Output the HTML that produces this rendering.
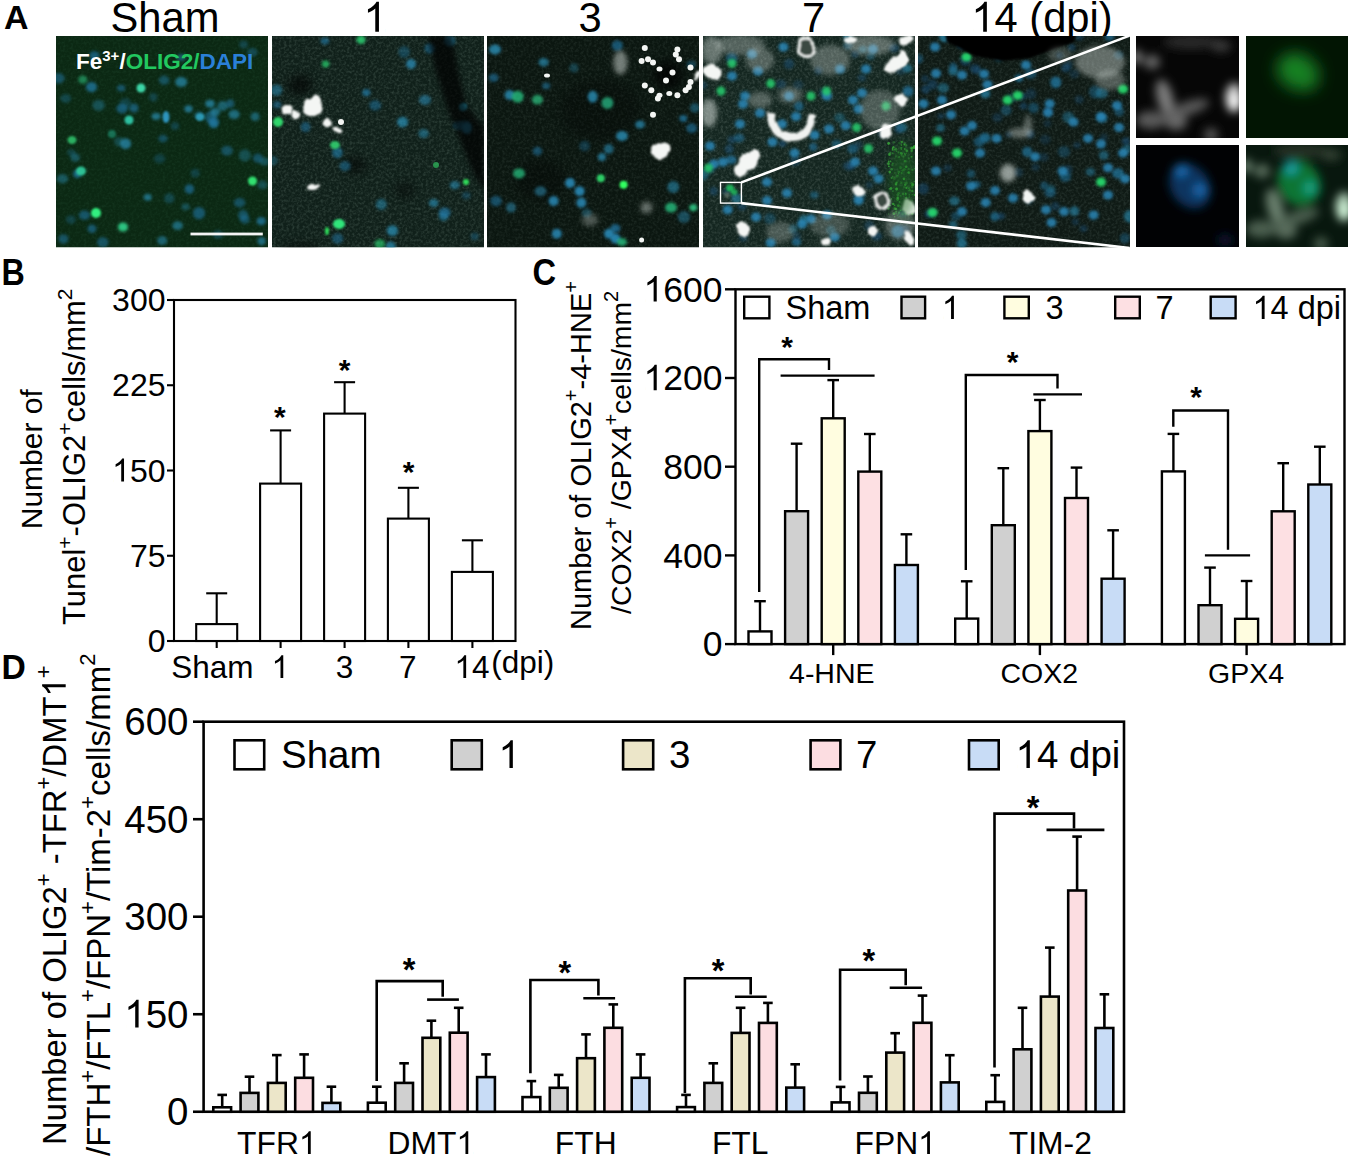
<!DOCTYPE html><html><head><meta charset="utf-8"><style>html,body{margin:0;padding:0;background:#fff;width:1350px;height:1159px;overflow:hidden;position:relative;font-family:"Liberation Sans",sans-serif}</style></head><body><svg width="1350" height="1159" viewBox="0 0 1350 1159" style="position:absolute;left:0;top:0">
<defs><filter id="b05" x="-50%" y="-50%" width="200%" height="200%"><feGaussianBlur stdDeviation="0.6"/></filter><filter id="b1" x="-50%" y="-50%" width="200%" height="200%"><feGaussianBlur stdDeviation="1.2"/></filter><filter id="b15" x="-50%" y="-50%" width="200%" height="200%"><feGaussianBlur stdDeviation="1.6"/></filter><filter id="rough" x="-30%" y="-30%" width="160%" height="160%"><feTurbulence type="fractalNoise" baseFrequency="0.12" numOctaves="2" seed="5" result="t"/><feDisplacementMap in="SourceGraphic" in2="t" scale="5" xChannelSelector="R" yChannelSelector="G" result="d"/><feGaussianBlur in="d" stdDeviation="1.2"/></filter><filter id="b2" x="-50%" y="-50%" width="200%" height="200%"><feGaussianBlur stdDeviation="2.5"/></filter><filter id="b4" x="-50%" y="-50%" width="200%" height="200%"><feGaussianBlur stdDeviation="5"/></filter><filter id="b8" x="-50%" y="-50%" width="200%" height="200%"><feGaussianBlur stdDeviation="8"/></filter></defs>
<g font-family="Liberation Sans, sans-serif">
<rect x="0" y="0" width="1350" height="1159" fill="#fff"/>
<text transform="translate(4,29) scale(1,1)" font-size="34" font-weight="bold">A</text>
<text x="165" y="31.8" font-size="41.7" text-anchor="middle" font-weight="normal" fill="#000" >Sham</text>
<text class="has1" x="375" y="31.8" font-size="41.7" text-anchor="middle" font-weight="normal" fill="#000" >1</text>
<text x="590" y="31.8" font-size="41.7" text-anchor="middle" font-weight="normal" fill="#000" >3</text>
<text x="813.5" y="31.8" font-size="41.7" text-anchor="middle" font-weight="normal" fill="#000" >7</text>
<text class="has1" x="1042" y="31.8" font-size="41.7" text-anchor="middle" font-weight="normal" fill="#000" >14 (dpi)</text>
<clipPath id="clip1"><rect x="56" y="36" width="212" height="211.5"/></clipPath>
<g clip-path="url(#clip1)">
<rect x="56" y="36" width="212" height="211.5" fill="#0b2813"/>
<filter id="sp1" x="0" y="0" width="100%" height="100%" filterUnits="userSpaceOnUse"><feTurbulence type="fractalNoise" baseFrequency="0.38" numOctaves="2" seed="1"/><feColorMatrix type="matrix" values="0 0 0 0 0.1 0 0 0 0 0.35 0 0 0 0 0.2 0.220 0 0 0 -0.090"/></filter>
<rect x="56" y="36" width="212" height="211.5" filter="url(#sp1)"/>
<ellipse cx="84.5" cy="215.2" rx="5.7" ry="4.7" fill="#1f6f9a" opacity="0.62" filter="url(#b15)"/>
<ellipse cx="156.1" cy="116.3" rx="4.5" ry="3.6" fill="#2b95bd" opacity="0.65" filter="url(#b15)"/>
<ellipse cx="147.7" cy="197.2" rx="4.0" ry="3.5" fill="#2b95bd" opacity="0.64" filter="url(#b15)"/>
<ellipse cx="181.3" cy="57.6" rx="4.7" ry="3.8" fill="#2380ad" opacity="0.53" filter="url(#b15)"/>
<ellipse cx="255.1" cy="116.6" rx="4.5" ry="4.4" fill="#2b95bd" opacity="0.52" filter="url(#b15)"/>
<ellipse cx="217.9" cy="234.6" rx="5.2" ry="4.5" fill="#1f6f9a" opacity="0.39" filter="url(#b15)"/>
<ellipse cx="153.4" cy="97.3" rx="4.0" ry="4.2" fill="#2079a8" opacity="0.34" filter="url(#b15)"/>
<ellipse cx="189.4" cy="189.0" rx="4.7" ry="4.8" fill="#1f6f9a" opacity="0.71" filter="url(#b15)"/>
<ellipse cx="162.2" cy="240.6" rx="5.1" ry="4.5" fill="#2a90b8" opacity="0.55" filter="url(#b15)"/>
<ellipse cx="243.1" cy="215.0" rx="5.1" ry="5.2" fill="#2079a8" opacity="0.50" filter="url(#b15)"/>
<ellipse cx="213.7" cy="121.5" rx="5.5" ry="5.1" fill="#1f6f9a" opacity="0.60" filter="url(#b15)"/>
<ellipse cx="199.0" cy="115.2" rx="5.0" ry="4.1" fill="#2079a8" opacity="0.37" filter="url(#b15)"/>
<ellipse cx="234.1" cy="114.4" rx="5.6" ry="4.6" fill="#2b95bd" opacity="0.60" filter="url(#b15)"/>
<ellipse cx="264.4" cy="161.5" rx="4.9" ry="4.1" fill="#2a90b8" opacity="0.40" filter="url(#b15)"/>
<ellipse cx="58.6" cy="78.2" rx="6.0" ry="5.2" fill="#2079a8" opacity="0.52" filter="url(#b15)"/>
<ellipse cx="257.9" cy="158.2" rx="5.0" ry="4.8" fill="#1f6f9a" opacity="0.56" filter="url(#b15)"/>
<ellipse cx="210.6" cy="117.2" rx="5.9" ry="5.9" fill="#2079a8" opacity="0.52" filter="url(#b15)"/>
<ellipse cx="175.0" cy="126.1" rx="4.1" ry="3.9" fill="#1f6f9a" opacity="0.38" filter="url(#b15)"/>
<ellipse cx="163.0" cy="138.6" rx="4.8" ry="3.8" fill="#1f6f9a" opacity="0.53" filter="url(#b15)"/>
<ellipse cx="222.7" cy="106.0" rx="5.3" ry="5.1" fill="#2a90b8" opacity="0.53" filter="url(#b15)"/>
<ellipse cx="94.3" cy="55.4" rx="5.2" ry="4.2" fill="#1f6f9a" opacity="0.70" filter="url(#b15)"/>
<ellipse cx="70.9" cy="219.6" rx="5.0" ry="4.3" fill="#1f6f9a" opacity="0.35" filter="url(#b15)"/>
<ellipse cx="188.5" cy="108.8" rx="4.2" ry="3.6" fill="#2a90b8" opacity="0.70" filter="url(#b15)"/>
<ellipse cx="195.2" cy="173.1" rx="4.6" ry="4.3" fill="#1f6f9a" opacity="0.35" filter="url(#b15)"/>
<ellipse cx="122.1" cy="108.6" rx="5.8" ry="4.8" fill="#1f6f9a" opacity="0.68" filter="url(#b15)"/>
<ellipse cx="164.1" cy="80.2" rx="5.3" ry="4.6" fill="#2380ad" opacity="0.47" filter="url(#b15)"/>
<ellipse cx="63.5" cy="239.0" rx="5.0" ry="4.8" fill="#2079a8" opacity="0.53" filter="url(#b15)"/>
<ellipse cx="102.8" cy="242.3" rx="5.8" ry="5.3" fill="#2079a8" opacity="0.52" filter="url(#b15)"/>
<ellipse cx="62.5" cy="178.7" rx="5.8" ry="4.7" fill="#2b95bd" opacity="0.43" filter="url(#b15)"/>
<ellipse cx="261.2" cy="221.2" rx="4.7" ry="4.1" fill="#2380ad" opacity="0.69" filter="url(#b15)"/>
<ellipse cx="213.7" cy="124.0" rx="4.6" ry="4.3" fill="#2380ad" opacity="0.66" filter="url(#b15)"/>
<ellipse cx="181.2" cy="82.0" rx="6.0" ry="5.0" fill="#2b95bd" opacity="0.66" filter="url(#b15)"/>
<ellipse cx="262.4" cy="184.9" rx="5.1" ry="4.4" fill="#2b95bd" opacity="0.34" filter="url(#b15)"/>
<ellipse cx="177.6" cy="225.6" rx="5.3" ry="4.4" fill="#2b95bd" opacity="0.58" filter="url(#b15)"/>
<ellipse cx="118.8" cy="141.7" rx="4.7" ry="4.8" fill="#2b95bd" opacity="0.31" filter="url(#b15)"/>
<ellipse cx="98.6" cy="105.3" rx="6.2" ry="5.5" fill="#2a90b8" opacity="0.39" filter="url(#b15)"/>
<ellipse cx="199.0" cy="213.2" rx="6.1" ry="6.2" fill="#1f6f9a" opacity="0.65" filter="url(#b15)"/>
<ellipse cx="169.3" cy="198.4" rx="5.2" ry="5.1" fill="#2380ad" opacity="0.34" filter="url(#b15)"/>
<ellipse cx="92.0" cy="228.7" rx="4.5" ry="4.2" fill="#1f6f9a" opacity="0.65" filter="url(#b15)"/>
<ellipse cx="134.0" cy="108.0" rx="4.6" ry="4.6" fill="#2079a8" opacity="0.60" filter="url(#b15)"/>
<ellipse cx="159.6" cy="158.7" rx="5.7" ry="4.6" fill="#1f6f9a" opacity="0.33" filter="url(#b15)"/>
<ellipse cx="239.6" cy="202.7" rx="5.8" ry="4.8" fill="#1f6f9a" opacity="0.55" filter="url(#b15)"/>
<ellipse cx="252.3" cy="52.2" rx="5.2" ry="4.3" fill="#2079a8" opacity="0.41" filter="url(#b15)"/>
<ellipse cx="244.8" cy="155.4" rx="6.0" ry="6.2" fill="#2b95bd" opacity="0.35" filter="url(#b15)"/>
<ellipse cx="65.7" cy="98.5" rx="5.4" ry="4.4" fill="#2380ad" opacity="0.35" filter="url(#b15)"/>
<ellipse cx="243.6" cy="44.5" rx="4.5" ry="4.1" fill="#2079a8" opacity="0.35" filter="url(#b15)"/>
<ellipse cx="91.5" cy="87.1" rx="5.6" ry="5.1" fill="#2380ad" opacity="0.71" filter="url(#b15)"/>
<ellipse cx="227.0" cy="150.8" rx="5.8" ry="5.0" fill="#2079a8" opacity="0.50" filter="url(#b15)"/>
<ellipse cx="77.2" cy="173.9" rx="4.1" ry="4.1" fill="#2380ad" opacity="0.69" filter="url(#b15)"/>
<ellipse cx="210.0" cy="103.7" rx="4.9" ry="4.0" fill="#2b95bd" opacity="0.68" filter="url(#b15)"/>
<ellipse cx="261.6" cy="241.1" rx="4.2" ry="4.2" fill="#2a90b8" opacity="0.63" filter="url(#b15)"/>
<ellipse cx="244.9" cy="219.5" rx="5.0" ry="4.4" fill="#1f6f9a" opacity="0.53" filter="url(#b15)"/>
<ellipse cx="121.2" cy="88.1" rx="4.2" ry="3.4" fill="#1f6f9a" opacity="0.62" filter="url(#b15)"/>
<ellipse cx="75.2" cy="157.5" rx="4.7" ry="4.3" fill="#2a90b8" opacity="0.43" filter="url(#b15)"/>
<ellipse cx="125.4" cy="103.0" rx="5.9" ry="5.1" fill="#1f6f9a" opacity="0.34" filter="url(#b15)"/>
<ellipse cx="185.6" cy="206.8" rx="4.2" ry="3.4" fill="#2a90b8" opacity="0.40" filter="url(#b15)"/>
<ellipse cx="71.3" cy="152.6" rx="4.2" ry="3.3" fill="#2380ad" opacity="0.30" filter="url(#b15)"/>
<ellipse cx="215.2" cy="112.0" rx="5.0" ry="4.2" fill="#2a90b8" opacity="0.63" filter="url(#b15)"/>
<ellipse cx="125.6" cy="143.7" rx="5.5" ry="5.4" fill="#2a90b8" opacity="0.71" filter="url(#b15)"/>
<ellipse cx="230.2" cy="103.6" rx="4.2" ry="4.3" fill="#2079a8" opacity="0.55" filter="url(#b15)"/>
<ellipse cx="82.8" cy="79.7" rx="4.6" ry="4.1" fill="#30d890" opacity="0.51" filter="url(#b15)"/>
<ellipse cx="123.0" cy="227.0" rx="5.1" ry="4.6" fill="#30d890" opacity="0.88" filter="url(#b15)"/>
<ellipse cx="141" cy="88" rx="4.5" ry="4.5" fill="#40e0b0" opacity="0.95" filter="url(#b1)"/>
<ellipse cx="129" cy="120" rx="4.5" ry="4.5" fill="#30d0b0" opacity="0.9" filter="url(#b1)"/>
<ellipse cx="72" cy="140" rx="4.5" ry="4" fill="#30c870" opacity="0.85" filter="url(#b1)"/>
<ellipse cx="81" cy="171" rx="5" ry="4.5" fill="#30d0a0" opacity="0.9" filter="url(#b1)"/>
<ellipse cx="252.5" cy="181" rx="4.5" ry="4.5" fill="#30e070" opacity="1" filter="url(#b1)"/>
<ellipse cx="96" cy="213" rx="5" ry="5" fill="#30f080" opacity="1" filter="url(#b1)"/>
<ellipse cx="166" cy="117" rx="3.5" ry="6" fill="#30a0d0" opacity="0.9" filter="url(#b1)"/>
<ellipse cx="200" cy="117" rx="4.5" ry="4" fill="#30a8c8" opacity="0.85" filter="url(#b1)"/>
<ellipse cx="112" cy="134" rx="4" ry="4" fill="#20a080" opacity="0.6" filter="url(#b1)"/>
</g>
<clipPath id="clip2"><rect x="272" y="36" width="212" height="211.5"/></clipPath>
<g clip-path="url(#clip2)">
<rect x="272" y="36" width="212" height="211.5" fill="#10201a"/>
<filter id="sp2" x="0" y="0" width="100%" height="100%" filterUnits="userSpaceOnUse"><feTurbulence type="fractalNoise" baseFrequency="0.38" numOctaves="2" seed="2"/><feColorMatrix type="matrix" values="0 0 0 0 0.35 0 0 0 0 0.5 0 0 0 0 0.42 0.440 0 0 0 -0.180"/></filter>
<rect x="272" y="36" width="212" height="211.5" filter="url(#sp2)"/>
<ellipse cx="300" cy="85" rx="12" ry="10" fill="#000" opacity="0.6" filter="url(#b4)"/>
<ellipse cx="355" cy="165" rx="12" ry="8" fill="#000" opacity="0.5" filter="url(#b4)"/>
<ellipse cx="405" cy="190" rx="10" ry="8" fill="#000" opacity="0.4" filter="url(#b4)"/>
<ellipse cx="300" cy="250" rx="20" ry="8" fill="#000" opacity="0.4" filter="url(#b4)"/>
<ellipse cx="474.7" cy="236.5" rx="4.1" ry="3.7" fill="#2380ad" opacity="0.37" filter="url(#b15)"/>
<ellipse cx="443.5" cy="216.6" rx="4.6" ry="4.3" fill="#2a90b8" opacity="0.54" filter="url(#b15)"/>
<ellipse cx="305.6" cy="127.1" rx="4.9" ry="5.0" fill="#2079a8" opacity="0.53" filter="url(#b15)"/>
<ellipse cx="366.3" cy="92.7" rx="4.1" ry="3.6" fill="#2380ad" opacity="0.69" filter="url(#b15)"/>
<ellipse cx="464.4" cy="125.6" rx="5.9" ry="5.6" fill="#2a90b8" opacity="0.40" filter="url(#b15)"/>
<ellipse cx="277.1" cy="104.8" rx="4.3" ry="3.8" fill="#2079a8" opacity="0.52" filter="url(#b15)"/>
<ellipse cx="390.7" cy="246.5" rx="5.0" ry="4.9" fill="#2b95bd" opacity="0.68" filter="url(#b15)"/>
<ellipse cx="433.7" cy="203.0" rx="4.8" ry="4.0" fill="#2b95bd" opacity="0.62" filter="url(#b15)"/>
<ellipse cx="423.6" cy="133.6" rx="5.2" ry="4.5" fill="#2b95bd" opacity="0.51" filter="url(#b15)"/>
<ellipse cx="381.3" cy="204.4" rx="5.5" ry="5.6" fill="#2b95bd" opacity="0.49" filter="url(#b15)"/>
<ellipse cx="392.4" cy="230.6" rx="5.6" ry="5.4" fill="#2b95bd" opacity="0.70" filter="url(#b15)"/>
<ellipse cx="444.7" cy="212.6" rx="5.9" ry="5.1" fill="#2079a8" opacity="0.68" filter="url(#b15)"/>
<ellipse cx="337.6" cy="238.5" rx="5.6" ry="5.2" fill="#2079a8" opacity="0.51" filter="url(#b15)"/>
<ellipse cx="402.6" cy="122.0" rx="5.6" ry="5.2" fill="#2b95bd" opacity="0.69" filter="url(#b15)"/>
<ellipse cx="404.1" cy="51.9" rx="5.8" ry="6.0" fill="#2380ad" opacity="0.38" filter="url(#b15)"/>
<ellipse cx="429.9" cy="48.4" rx="5.4" ry="5.2" fill="#1f6f9a" opacity="0.59" filter="url(#b15)"/>
<ellipse cx="466.2" cy="195.5" rx="4.3" ry="3.7" fill="#1f6f9a" opacity="0.39" filter="url(#b15)"/>
<ellipse cx="458.7" cy="125.4" rx="5.6" ry="4.5" fill="#2380ad" opacity="0.45" filter="url(#b15)"/>
<ellipse cx="324.9" cy="41.0" rx="4.3" ry="3.4" fill="#2380ad" opacity="0.61" filter="url(#b15)"/>
<ellipse cx="276.5" cy="90.1" rx="5.8" ry="5.7" fill="#2a90b8" opacity="0.52" filter="url(#b15)"/>
<ellipse cx="272.4" cy="160.7" rx="5.7" ry="4.8" fill="#2a90b8" opacity="0.32" filter="url(#b15)"/>
<ellipse cx="345.0" cy="166.1" rx="5.6" ry="4.9" fill="#2380ad" opacity="0.51" filter="url(#b15)"/>
<ellipse cx="337.4" cy="152.6" rx="5.3" ry="5.5" fill="#2380ad" opacity="0.62" filter="url(#b15)"/>
<ellipse cx="454.8" cy="185.2" rx="5.0" ry="4.1" fill="#2a90b8" opacity="0.59" filter="url(#b15)"/>
<ellipse cx="449.7" cy="41.1" rx="5.7" ry="5.3" fill="#2a90b8" opacity="0.63" filter="url(#b15)"/>
<ellipse cx="375.2" cy="105.4" rx="5.9" ry="5.1" fill="#1f6f9a" opacity="0.55" filter="url(#b15)"/>
<ellipse cx="361.0" cy="39.8" rx="4.6" ry="4.2" fill="#2fe07a" opacity="0.80" filter="url(#b15)"/>
<ellipse cx="325.6" cy="63.9" rx="3.8" ry="3.5" fill="#25c86a" opacity="0.79" filter="url(#b15)"/>
<ellipse cx="379.8" cy="244.0" rx="5.4" ry="4.8" fill="#2fe07a" opacity="0.60" filter="url(#b15)"/>
<ellipse cx="278" cy="122" rx="5" ry="5" fill="#30e070" opacity="0.95" filter="url(#b1)"/>
<ellipse cx="335" cy="145" rx="5" ry="4" fill="#30d070" opacity="0.9" filter="url(#b1)"/>
<ellipse cx="339" cy="224" rx="6" ry="5" fill="#30f080" opacity="0.95" filter="url(#b1)"/>
<ellipse cx="327" cy="231" rx="2" ry="4" fill="#30f060" opacity="0.9" filter="url(#b1)"/>
<ellipse cx="466" cy="182" rx="3" ry="3" fill="#30f060" opacity="0.9" filter="url(#b1)"/>
<ellipse cx="436" cy="165" rx="3" ry="3" fill="#30c060" opacity="0.7" filter="url(#b05)"/>
<ellipse cx="463" cy="107" rx="4" ry="4" fill="#2aa0c0" opacity="0.9" filter="url(#b1)"/>
<ellipse cx="411" cy="64" rx="5" ry="5" fill="#2a88b0" opacity="0.8" filter="url(#b15)"/>
<ellipse cx="425" cy="100" rx="6" ry="5" fill="#2a88b0" opacity="0.6" filter="url(#b15)"/>
<ellipse cx="467" cy="128" rx="5" ry="6" fill="#2a90b8" opacity="0.85" filter="url(#b15)"/>
<polygon points="428,36 452,36 458,70 466,105 484,128 484,190 474,175 460,140 448,110 436,72" fill="#000" opacity="0.7" filter="url(#b2)"/>
<g filter="url(#rough)"><ellipse cx="287" cy="110" rx="6" ry="5" fill="#f4f6f4" transform="rotate(-4 287 110)"/></g>
<g filter="url(#rough)"><ellipse cx="296" cy="114" rx="5" ry="4" fill="#f4f6f4" transform="rotate(-20 296 114)"/></g>
<g filter="url(#rough)"><ellipse cx="312" cy="107" rx="10" ry="9" fill="#f4f6f4" transform="rotate(7 312 107)"/></g>
<g filter="url(#rough)"><ellipse cx="316" cy="100" rx="5" ry="6" fill="#f4f6f4" transform="rotate(10 316 100)"/></g>
<g filter="url(#rough)"><ellipse cx="327" cy="123" rx="5" ry="4" fill="#f4f6f4" transform="rotate(24 327 123)"/></g>
<g filter="url(#rough)"><ellipse cx="338" cy="130" rx="5" ry="3" fill="#f4f6f4" transform="rotate(17 338 130)"/></g>
<ellipse cx="341" cy="122" rx="3" ry="3" fill="#f4f6f4" filter="url(#b05)"/>
<g filter="url(#rough)"><ellipse cx="313" cy="187" rx="7" ry="3" fill="#f4f6f4" transform="rotate(-6 313 187)"/></g>
</g>
<clipPath id="clip3"><rect x="487" y="36" width="212" height="211.5"/></clipPath>
<g clip-path="url(#clip3)">
<rect x="487" y="36" width="212" height="211.5" fill="#0b1610"/>
<filter id="sp3" x="0" y="0" width="100%" height="100%" filterUnits="userSpaceOnUse"><feTurbulence type="fractalNoise" baseFrequency="0.38" numOctaves="2" seed="3"/><feColorMatrix type="matrix" values="0 0 0 0 0.3 0 0 0 0 0.42 0 0 0 0 0.36 0.286 0 0 0 -0.117"/></filter>
<rect x="487" y="36" width="212" height="211.5" filter="url(#sp3)"/>
<ellipse cx="600" cy="110" rx="40" ry="30" fill="#000" opacity="0.25" filter="url(#b4)"/>
<ellipse cx="540" cy="180" rx="25" ry="20" fill="#000" opacity="0.3" filter="url(#b4)"/>
<ellipse cx="668" cy="75" rx="14" ry="14" fill="#000" opacity="0.7" filter="url(#b4)"/>
<ellipse cx="537.4" cy="151.1" rx="4.8" ry="4.4" fill="#2079a8" opacity="0.54" filter="url(#b15)"/>
<ellipse cx="615.4" cy="228.2" rx="5.0" ry="4.3" fill="#2079a8" opacity="0.72" filter="url(#b15)"/>
<ellipse cx="586.7" cy="212.9" rx="5.0" ry="4.3" fill="#2a90b8" opacity="0.36" filter="url(#b15)"/>
<ellipse cx="683.3" cy="118.5" rx="4.0" ry="3.4" fill="#2380ad" opacity="0.70" filter="url(#b15)"/>
<ellipse cx="496.1" cy="201.0" rx="5.8" ry="5.3" fill="#1f6f9a" opacity="0.60" filter="url(#b15)"/>
<ellipse cx="673.3" cy="187.0" rx="6.0" ry="5.9" fill="#2b95bd" opacity="0.54" filter="url(#b15)"/>
<ellipse cx="691.4" cy="64.4" rx="4.8" ry="4.0" fill="#2380ad" opacity="0.39" filter="url(#b15)"/>
<ellipse cx="691.7" cy="128.2" rx="5.4" ry="4.9" fill="#1f6f9a" opacity="0.65" filter="url(#b15)"/>
<ellipse cx="608.7" cy="149.0" rx="4.9" ry="5.0" fill="#2a90b8" opacity="0.59" filter="url(#b15)"/>
<ellipse cx="683.9" cy="217.1" rx="6.2" ry="6.0" fill="#2a90b8" opacity="0.44" filter="url(#b15)"/>
<ellipse cx="601.9" cy="157.0" rx="4.2" ry="4.1" fill="#2a90b8" opacity="0.71" filter="url(#b15)"/>
<ellipse cx="543.6" cy="62.3" rx="5.1" ry="4.2" fill="#2b95bd" opacity="0.64" filter="url(#b15)"/>
<ellipse cx="574.0" cy="67.9" rx="4.6" ry="4.7" fill="#2b95bd" opacity="0.32" filter="url(#b15)"/>
<ellipse cx="617.3" cy="45.5" rx="5.6" ry="5.2" fill="#1f6f9a" opacity="0.69" filter="url(#b15)"/>
<ellipse cx="546.2" cy="85.9" rx="4.1" ry="3.3" fill="#2380ad" opacity="0.55" filter="url(#b15)"/>
<ellipse cx="493.7" cy="77.7" rx="4.9" ry="4.2" fill="#2079a8" opacity="0.59" filter="url(#b15)"/>
<ellipse cx="694.7" cy="107.9" rx="4.8" ry="4.9" fill="#2a90b8" opacity="0.46" filter="url(#b15)"/>
<ellipse cx="584.6" cy="146.0" rx="5.4" ry="5.3" fill="#2079a8" opacity="0.34" filter="url(#b15)"/>
<ellipse cx="693.3" cy="207.6" rx="4.0" ry="3.6" fill="#30d890" opacity="0.82" filter="url(#b15)"/>
<ellipse cx="537.4" cy="99.7" rx="5.5" ry="4.9" fill="#30d890" opacity="0.64" filter="url(#b15)"/>
<ellipse cx="495" cy="49.5" rx="6" ry="5" fill="#2a90b8" opacity="0.8" filter="url(#b15)"/>
<ellipse cx="509.6" cy="95" rx="5" ry="5" fill="#2a90b8" opacity="0.8" filter="url(#b15)"/>
<ellipse cx="517.7" cy="96.8" rx="6" ry="6" fill="#28c080" opacity="0.8" filter="url(#b15)"/>
<ellipse cx="592.7" cy="96.8" rx="5" ry="6" fill="#2a90b8" opacity="0.8" filter="url(#b15)"/>
<ellipse cx="607.4" cy="103" rx="6" ry="6" fill="#28b080" opacity="0.8" filter="url(#b15)"/>
<ellipse cx="622" cy="136" rx="6" ry="5" fill="#2a90b8" opacity="0.8" filter="url(#b15)"/>
<ellipse cx="640" cy="124.5" rx="5" ry="4" fill="#2a90b8" opacity="0.7" filter="url(#b15)"/>
<ellipse cx="519" cy="173.4" rx="6" ry="5" fill="#28c080" opacity="0.75" filter="url(#b15)"/>
<ellipse cx="570" cy="183" rx="5" ry="5" fill="#2a90c0" opacity="0.85" filter="url(#b15)"/>
<ellipse cx="579.6" cy="191.3" rx="5" ry="5" fill="#2a90c0" opacity="0.85" filter="url(#b15)"/>
<ellipse cx="600.8" cy="178.3" rx="4" ry="4" fill="#30e070" opacity="0.9" filter="url(#b1)"/>
<ellipse cx="623.6" cy="184.8" rx="4" ry="4" fill="#30ff60" opacity="1" filter="url(#b1)"/>
<ellipse cx="553.6" cy="201" rx="5" ry="5" fill="#2a90c0" opacity="0.8" filter="url(#b15)"/>
<ellipse cx="540.5" cy="191.3" rx="6" ry="5" fill="#2a80a0" opacity="0.6" filter="url(#b15)"/>
<ellipse cx="581.3" cy="202.7" rx="5" ry="5" fill="#2a90c0" opacity="0.8" filter="url(#b15)"/>
<ellipse cx="511" cy="207.6" rx="5" ry="5" fill="#2a80a0" opacity="0.6" filter="url(#b15)"/>
<ellipse cx="671" cy="207.6" rx="6" ry="5" fill="#28c080" opacity="0.8" filter="url(#b15)"/>
<ellipse cx="609" cy="233.7" rx="5" ry="5" fill="#2a90c0" opacity="0.85" filter="url(#b15)"/>
<ellipse cx="615.5" cy="238.6" rx="5" ry="5" fill="#2a90c0" opacity="0.85" filter="url(#b15)"/>
<ellipse cx="556.8" cy="233.7" rx="5" ry="5" fill="#2a90c0" opacity="0.8" filter="url(#b15)"/>
<ellipse cx="622" cy="242" rx="5" ry="4" fill="#28c080" opacity="0.8" filter="url(#b15)"/>
<ellipse cx="620.4" cy="62.6" rx="7" ry="12" fill="#c8d0cc" opacity="0.55" filter="url(#b2)"/>
<ellipse cx="646.5" cy="207.6" rx="6" ry="6" fill="#c8d0cc" opacity="0.45" filter="url(#b2)"/>
<ellipse cx="590" cy="220" rx="8" ry="6" fill="#c8d0cc" opacity="0.35" filter="url(#b2)"/>
<ellipse cx="644.8" cy="47.9" rx="3" ry="3" fill="#f4f6f4" filter="url(#b05)"/>
<ellipse cx="648" cy="59.3" rx="3" ry="3" fill="#f4f6f4" filter="url(#b05)"/>
<ellipse cx="641.6" cy="61" rx="3" ry="3" fill="#f4f6f4" filter="url(#b05)"/>
<ellipse cx="653" cy="62.6" rx="3" ry="3" fill="#f4f6f4" filter="url(#b05)"/>
<ellipse cx="659.5" cy="69" rx="3" ry="2.5" fill="#f4f6f4" filter="url(#b05)"/>
<ellipse cx="677.4" cy="49.6" rx="3" ry="3" fill="#f4f6f4" filter="url(#b05)"/>
<ellipse cx="675.8" cy="54.4" rx="3" ry="3" fill="#f4f6f4" filter="url(#b05)"/>
<ellipse cx="679" cy="59.3" rx="3" ry="3" fill="#f4f6f4" filter="url(#b05)"/>
<ellipse cx="690.5" cy="67.5" rx="3" ry="3" fill="#f4f6f4" filter="url(#b05)"/>
<ellipse cx="672.5" cy="72.4" rx="3" ry="3" fill="#f4f6f4" filter="url(#b05)"/>
<ellipse cx="666" cy="80.5" rx="3" ry="3" fill="#f4f6f4" filter="url(#b05)"/>
<ellipse cx="690.5" cy="82" rx="3" ry="3" fill="#f4f6f4" filter="url(#b05)"/>
<ellipse cx="644.8" cy="85.4" rx="3" ry="3" fill="#f4f6f4" filter="url(#b05)"/>
<ellipse cx="651.3" cy="90.3" rx="3" ry="3" fill="#f4f6f4" filter="url(#b05)"/>
<ellipse cx="659.5" cy="95.2" rx="3" ry="2.5" fill="#f4f6f4" filter="url(#b05)"/>
<ellipse cx="669.3" cy="93.6" rx="3" ry="2.5" fill="#f4f6f4" filter="url(#b05)"/>
<ellipse cx="677.4" cy="95.2" rx="3" ry="3" fill="#f4f6f4" filter="url(#b05)"/>
<ellipse cx="685.6" cy="90.3" rx="3" ry="3" fill="#f4f6f4" filter="url(#b05)"/>
<ellipse cx="688.9" cy="87" rx="3" ry="3" fill="#f4f6f4" filter="url(#b05)"/>
<ellipse cx="657.9" cy="98.4" rx="3" ry="3" fill="#f4f6f4" filter="url(#b05)"/>
<ellipse cx="653" cy="114.7" rx="3" ry="3" fill="#f4f6f4" filter="url(#b05)"/>
<g filter="url(#rough)"><ellipse cx="661" cy="150.6" rx="10" ry="8" fill="#f4f6f4" transform="rotate(-26 661 150.6)"/></g>
<ellipse cx="547" cy="75.6" rx="3" ry="2" fill="#f4f6f4" filter="url(#b05)"/>
<ellipse cx="641.6" cy="240" rx="2.5" ry="2.5" fill="#f4f6f4" filter="url(#b05)"/>
<g filter="url(#rough)"><ellipse cx="698" cy="75" rx="2" ry="6" fill="#f4f6f4" transform="rotate(28 698 75)"/></g>
</g>
<clipPath id="clip4"><rect x="703" y="36" width="212" height="211.5"/></clipPath>
<g clip-path="url(#clip4)">
<rect x="703" y="36" width="212" height="211.5" fill="#142620"/>
<filter id="sp4" x="0" y="0" width="100%" height="100%" filterUnits="userSpaceOnUse"><feTurbulence type="fractalNoise" baseFrequency="0.38" numOctaves="2" seed="4"/><feColorMatrix type="matrix" values="0 0 0 0 0.45 0 0 0 0 0.55 0 0 0 0 0.5 0.440 0 0 0 -0.180"/></filter>
<rect x="703" y="36" width="212" height="211.5" filter="url(#sp4)"/>
<circle cx="894.4" cy="149.7" r="0.9" fill="#3fc040" opacity="0.38"/>
<circle cx="889.8" cy="172.1" r="1.3" fill="#3fc040" opacity="0.70"/>
<circle cx="908.7" cy="158.6" r="1.0" fill="#3fc040" opacity="0.44"/>
<circle cx="892.7" cy="150.0" r="0.8" fill="#3fc040" opacity="0.76"/>
<circle cx="910.4" cy="202.5" r="1.2" fill="#3fc040" opacity="0.40"/>
<circle cx="896.4" cy="189.0" r="1.2" fill="#3fc040" opacity="0.73"/>
<circle cx="911.8" cy="148.5" r="1.1" fill="#3fc040" opacity="0.64"/>
<circle cx="901.7" cy="155.3" r="1.0" fill="#3fc040" opacity="0.34"/>
<circle cx="913.2" cy="206.9" r="1.0" fill="#3fc040" opacity="0.45"/>
<circle cx="912.5" cy="184.9" r="1.3" fill="#3fc040" opacity="0.72"/>
<circle cx="901.7" cy="173.0" r="1.1" fill="#3fc040" opacity="0.52"/>
<circle cx="892.4" cy="164.9" r="1.3" fill="#3fc040" opacity="0.32"/>
<circle cx="889.3" cy="189.0" r="0.8" fill="#3fc040" opacity="0.57"/>
<circle cx="900.7" cy="167.7" r="1.4" fill="#3fc040" opacity="0.40"/>
<circle cx="899.1" cy="157.2" r="1.1" fill="#3fc040" opacity="0.44"/>
<circle cx="897.6" cy="198.0" r="0.9" fill="#3fc040" opacity="0.58"/>
<circle cx="912.4" cy="149.6" r="0.6" fill="#3fc040" opacity="0.41"/>
<circle cx="908.7" cy="188.2" r="0.8" fill="#3fc040" opacity="0.47"/>
<circle cx="892.8" cy="176.4" r="0.6" fill="#3fc040" opacity="0.65"/>
<circle cx="912.2" cy="213.6" r="1.2" fill="#3fc040" opacity="0.78"/>
<circle cx="888.5" cy="163.7" r="1.4" fill="#3fc040" opacity="0.69"/>
<circle cx="899.1" cy="212.7" r="1.1" fill="#3fc040" opacity="0.71"/>
<circle cx="895.9" cy="156.4" r="1.0" fill="#3fc040" opacity="0.37"/>
<circle cx="898.3" cy="214.1" r="0.9" fill="#3fc040" opacity="0.30"/>
<circle cx="889.2" cy="154.7" r="1.2" fill="#3fc040" opacity="0.48"/>
<circle cx="895.8" cy="149.3" r="1.4" fill="#3fc040" opacity="0.51"/>
<circle cx="893.6" cy="146.5" r="0.6" fill="#3fc040" opacity="0.38"/>
<circle cx="906.3" cy="153.2" r="0.6" fill="#3fc040" opacity="0.55"/>
<circle cx="894.7" cy="216.8" r="0.7" fill="#3fc040" opacity="0.56"/>
<circle cx="908.9" cy="172.7" r="1.4" fill="#3fc040" opacity="0.54"/>
<circle cx="894.5" cy="172.8" r="0.6" fill="#3fc040" opacity="0.51"/>
<circle cx="894.7" cy="208.7" r="1.3" fill="#3fc040" opacity="0.55"/>
<circle cx="888.9" cy="161.1" r="0.8" fill="#3fc040" opacity="0.40"/>
<circle cx="894.2" cy="207.2" r="0.7" fill="#3fc040" opacity="0.33"/>
<circle cx="913.1" cy="184.4" r="1.4" fill="#3fc040" opacity="0.50"/>
<circle cx="912.3" cy="191.0" r="1.2" fill="#3fc040" opacity="0.67"/>
<circle cx="901.3" cy="149.0" r="0.8" fill="#3fc040" opacity="0.74"/>
<circle cx="912.3" cy="211.3" r="0.9" fill="#3fc040" opacity="0.63"/>
<circle cx="909.6" cy="190.2" r="1.3" fill="#3fc040" opacity="0.56"/>
<circle cx="905.7" cy="193.4" r="0.8" fill="#3fc040" opacity="0.76"/>
<circle cx="913.8" cy="147.6" r="1.4" fill="#3fc040" opacity="0.78"/>
<circle cx="906.0" cy="145.3" r="1.3" fill="#3fc040" opacity="0.36"/>
<circle cx="914.2" cy="192.0" r="0.6" fill="#3fc040" opacity="0.38"/>
<circle cx="905.2" cy="184.7" r="1.2" fill="#3fc040" opacity="0.76"/>
<circle cx="893.9" cy="142.2" r="1.3" fill="#3fc040" opacity="0.31"/>
<circle cx="911.7" cy="150.7" r="1.2" fill="#3fc040" opacity="0.69"/>
<circle cx="911.7" cy="183.3" r="1.3" fill="#3fc040" opacity="0.40"/>
<circle cx="906.1" cy="166.8" r="1.3" fill="#3fc040" opacity="0.69"/>
<circle cx="900.7" cy="181.5" r="0.6" fill="#3fc040" opacity="0.32"/>
<circle cx="904.1" cy="178.7" r="1.3" fill="#3fc040" opacity="0.60"/>
<circle cx="891.7" cy="169.2" r="1.2" fill="#3fc040" opacity="0.56"/>
<circle cx="888.3" cy="204.8" r="1.3" fill="#3fc040" opacity="0.34"/>
<circle cx="902.7" cy="170.6" r="1.2" fill="#3fc040" opacity="0.46"/>
<circle cx="894.3" cy="178.5" r="1.4" fill="#3fc040" opacity="0.35"/>
<circle cx="891.1" cy="188.6" r="1.3" fill="#3fc040" opacity="0.56"/>
<circle cx="899.7" cy="206.3" r="1.2" fill="#3fc040" opacity="0.33"/>
<circle cx="911.8" cy="156.7" r="0.8" fill="#3fc040" opacity="0.72"/>
<circle cx="899.4" cy="201.9" r="0.7" fill="#3fc040" opacity="0.74"/>
<circle cx="892.8" cy="153.2" r="1.0" fill="#3fc040" opacity="0.47"/>
<circle cx="902.6" cy="209.8" r="1.2" fill="#3fc040" opacity="0.30"/>
<circle cx="896.4" cy="182.9" r="1.0" fill="#3fc040" opacity="0.66"/>
<circle cx="901.1" cy="147.7" r="0.8" fill="#3fc040" opacity="0.72"/>
<circle cx="897.6" cy="199.5" r="1.4" fill="#3fc040" opacity="0.61"/>
<circle cx="906.3" cy="187.7" r="0.9" fill="#3fc040" opacity="0.76"/>
<circle cx="900.6" cy="210.4" r="0.8" fill="#3fc040" opacity="0.73"/>
<circle cx="909.2" cy="188.0" r="1.0" fill="#3fc040" opacity="0.37"/>
<circle cx="908.8" cy="169.2" r="1.1" fill="#3fc040" opacity="0.37"/>
<circle cx="890.2" cy="152.8" r="1.2" fill="#3fc040" opacity="0.39"/>
<circle cx="912.4" cy="169.9" r="1.1" fill="#3fc040" opacity="0.48"/>
<circle cx="904.8" cy="149.0" r="0.9" fill="#3fc040" opacity="0.77"/>
<circle cx="892.9" cy="191.1" r="0.9" fill="#3fc040" opacity="0.45"/>
<circle cx="888.6" cy="143.5" r="1.4" fill="#3fc040" opacity="0.71"/>
<circle cx="909.6" cy="202.5" r="1.4" fill="#3fc040" opacity="0.38"/>
<circle cx="903.8" cy="179.1" r="1.1" fill="#3fc040" opacity="0.77"/>
<circle cx="908.5" cy="214.6" r="0.7" fill="#3fc040" opacity="0.63"/>
<circle cx="906.2" cy="197.9" r="1.1" fill="#3fc040" opacity="0.72"/>
<circle cx="896.2" cy="211.6" r="0.9" fill="#3fc040" opacity="0.60"/>
<circle cx="912.2" cy="194.8" r="0.8" fill="#3fc040" opacity="0.42"/>
<circle cx="896.8" cy="189.0" r="1.4" fill="#3fc040" opacity="0.75"/>
<circle cx="898.8" cy="172.0" r="1.3" fill="#3fc040" opacity="0.44"/>
<circle cx="899.1" cy="143.0" r="0.7" fill="#3fc040" opacity="0.57"/>
<circle cx="906.7" cy="188.1" r="0.9" fill="#3fc040" opacity="0.78"/>
<circle cx="904.8" cy="153.7" r="0.7" fill="#3fc040" opacity="0.79"/>
<circle cx="914.7" cy="211.0" r="1.1" fill="#3fc040" opacity="0.46"/>
<circle cx="890.5" cy="161.3" r="0.8" fill="#3fc040" opacity="0.76"/>
<circle cx="912.1" cy="200.3" r="0.7" fill="#3fc040" opacity="0.42"/>
<circle cx="896.1" cy="213.1" r="0.7" fill="#3fc040" opacity="0.70"/>
<circle cx="906.4" cy="183.0" r="1.4" fill="#3fc040" opacity="0.43"/>
<circle cx="902.2" cy="153.8" r="0.7" fill="#3fc040" opacity="0.32"/>
<circle cx="896.5" cy="151.1" r="0.6" fill="#3fc040" opacity="0.80"/>
<circle cx="895.8" cy="208.8" r="1.2" fill="#3fc040" opacity="0.67"/>
<circle cx="905.7" cy="213.4" r="1.3" fill="#3fc040" opacity="0.66"/>
<circle cx="903.1" cy="194.0" r="1.2" fill="#3fc040" opacity="0.58"/>
<circle cx="901.6" cy="153.6" r="1.3" fill="#3fc040" opacity="0.54"/>
<circle cx="889.8" cy="154.6" r="1.3" fill="#3fc040" opacity="0.43"/>
<circle cx="898.6" cy="193.2" r="1.3" fill="#3fc040" opacity="0.46"/>
<circle cx="898.4" cy="173.7" r="0.6" fill="#3fc040" opacity="0.74"/>
<circle cx="888.5" cy="214.0" r="0.7" fill="#3fc040" opacity="0.38"/>
<circle cx="910.9" cy="203.8" r="0.8" fill="#3fc040" opacity="0.58"/>
<circle cx="900.9" cy="195.9" r="0.7" fill="#3fc040" opacity="0.71"/>
<circle cx="914.9" cy="195.0" r="1.3" fill="#3fc040" opacity="0.77"/>
<circle cx="898.2" cy="205.6" r="1.3" fill="#3fc040" opacity="0.59"/>
<circle cx="890.9" cy="188.4" r="1.3" fill="#3fc040" opacity="0.45"/>
<circle cx="905.5" cy="209.3" r="1.1" fill="#3fc040" opacity="0.32"/>
<circle cx="905.1" cy="161.2" r="1.3" fill="#3fc040" opacity="0.63"/>
<circle cx="896.3" cy="209.2" r="1.1" fill="#3fc040" opacity="0.47"/>
<circle cx="910.5" cy="208.9" r="1.3" fill="#3fc040" opacity="0.74"/>
<circle cx="905.8" cy="194.4" r="1.1" fill="#3fc040" opacity="0.56"/>
<circle cx="914.7" cy="168.5" r="0.7" fill="#3fc040" opacity="0.66"/>
<circle cx="901.4" cy="182.9" r="1.1" fill="#3fc040" opacity="0.42"/>
<circle cx="893.4" cy="147.4" r="1.2" fill="#3fc040" opacity="0.75"/>
<circle cx="906.8" cy="150.8" r="1.4" fill="#3fc040" opacity="0.71"/>
<circle cx="901.8" cy="142.1" r="1.3" fill="#3fc040" opacity="0.61"/>
<circle cx="904.8" cy="143.4" r="1.2" fill="#3fc040" opacity="0.32"/>
<circle cx="900.9" cy="152.9" r="0.9" fill="#3fc040" opacity="0.75"/>
<circle cx="908.2" cy="203.2" r="0.8" fill="#3fc040" opacity="0.49"/>
<circle cx="904.3" cy="144.6" r="0.9" fill="#3fc040" opacity="0.79"/>
<circle cx="908.4" cy="206.7" r="0.8" fill="#3fc040" opacity="0.65"/>
<circle cx="909.3" cy="194.8" r="0.9" fill="#3fc040" opacity="0.39"/>
<circle cx="888.5" cy="208.5" r="1.3" fill="#3fc040" opacity="0.44"/>
<circle cx="908.4" cy="172.5" r="1.1" fill="#3fc040" opacity="0.72"/>
<circle cx="896.7" cy="188.5" r="0.8" fill="#3fc040" opacity="0.56"/>
<circle cx="888.8" cy="161.8" r="0.8" fill="#3fc040" opacity="0.76"/>
<circle cx="891.6" cy="198.9" r="0.7" fill="#3fc040" opacity="0.79"/>
<circle cx="892.5" cy="148.9" r="0.8" fill="#3fc040" opacity="0.77"/>
<circle cx="906.1" cy="208.8" r="1.0" fill="#3fc040" opacity="0.36"/>
<circle cx="897.2" cy="176.2" r="1.4" fill="#3fc040" opacity="0.38"/>
<circle cx="894.6" cy="205.2" r="0.7" fill="#3fc040" opacity="0.79"/>
<circle cx="896.0" cy="184.5" r="1.1" fill="#3fc040" opacity="0.75"/>
<circle cx="890.0" cy="205.5" r="0.7" fill="#3fc040" opacity="0.66"/>
<circle cx="888.7" cy="199.5" r="0.7" fill="#3fc040" opacity="0.40"/>
<circle cx="888.9" cy="166.3" r="0.9" fill="#3fc040" opacity="0.79"/>
<circle cx="904.4" cy="169.3" r="1.4" fill="#3fc040" opacity="0.39"/>
<circle cx="893.8" cy="213.7" r="1.4" fill="#3fc040" opacity="0.64"/>
<circle cx="914.4" cy="146.3" r="1.3" fill="#3fc040" opacity="0.65"/>
<circle cx="906.0" cy="205.2" r="0.7" fill="#3fc040" opacity="0.40"/>
<circle cx="891.7" cy="177.9" r="1.0" fill="#3fc040" opacity="0.57"/>
<circle cx="897.8" cy="197.8" r="1.3" fill="#3fc040" opacity="0.68"/>
<circle cx="889.0" cy="153.5" r="0.8" fill="#3fc040" opacity="0.42"/>
<circle cx="903.5" cy="156.6" r="1.1" fill="#3fc040" opacity="0.47"/>
<circle cx="897.8" cy="195.1" r="1.4" fill="#3fc040" opacity="0.40"/>
<circle cx="897.4" cy="215.6" r="0.8" fill="#3fc040" opacity="0.31"/>
<circle cx="893.2" cy="203.9" r="1.2" fill="#3fc040" opacity="0.77"/>
<circle cx="901.4" cy="145.1" r="0.8" fill="#3fc040" opacity="0.66"/>
<circle cx="898.6" cy="152.5" r="0.9" fill="#3fc040" opacity="0.53"/>
<circle cx="897.6" cy="175.5" r="0.7" fill="#3fc040" opacity="0.31"/>
<circle cx="909.2" cy="196.9" r="0.9" fill="#3fc040" opacity="0.36"/>
<circle cx="896.0" cy="183.9" r="1.3" fill="#3fc040" opacity="0.54"/>
<circle cx="914.3" cy="181.5" r="0.7" fill="#3fc040" opacity="0.61"/>
<circle cx="904.2" cy="186.9" r="1.2" fill="#3fc040" opacity="0.31"/>
<circle cx="899.8" cy="202.0" r="0.7" fill="#3fc040" opacity="0.32"/>
<circle cx="892.9" cy="163.4" r="0.9" fill="#3fc040" opacity="0.46"/>
<circle cx="905.1" cy="154.8" r="0.9" fill="#3fc040" opacity="0.64"/>
<circle cx="902.7" cy="213.9" r="1.3" fill="#3fc040" opacity="0.43"/>
<circle cx="897.0" cy="182.3" r="1.0" fill="#3fc040" opacity="0.48"/>
<circle cx="911.3" cy="156.8" r="1.0" fill="#3fc040" opacity="0.36"/>
<circle cx="911.8" cy="186.7" r="1.4" fill="#3fc040" opacity="0.37"/>
<circle cx="907.2" cy="186.8" r="0.6" fill="#3fc040" opacity="0.71"/>
<circle cx="911.6" cy="148.0" r="1.4" fill="#3fc040" opacity="0.69"/>
<circle cx="904.3" cy="182.8" r="0.8" fill="#3fc040" opacity="0.33"/>
<ellipse cx="803.8" cy="219.1" rx="4.5" ry="4.4" fill="#2b95bd" opacity="0.52" filter="url(#b15)"/>
<ellipse cx="862.8" cy="49.2" rx="4.3" ry="3.5" fill="#2b95bd" opacity="0.45" filter="url(#b15)"/>
<ellipse cx="830.9" cy="230.0" rx="4.8" ry="4.4" fill="#2a90b8" opacity="0.33" filter="url(#b15)"/>
<ellipse cx="793.0" cy="229.1" rx="4.6" ry="4.6" fill="#2a90b8" opacity="0.38" filter="url(#b15)"/>
<ellipse cx="897.7" cy="231.2" rx="6.2" ry="6.3" fill="#2380ad" opacity="0.70" filter="url(#b15)"/>
<ellipse cx="813.2" cy="147.0" rx="4.1" ry="4.0" fill="#2079a8" opacity="0.58" filter="url(#b15)"/>
<ellipse cx="836.6" cy="144.0" rx="5.2" ry="4.3" fill="#2380ad" opacity="0.48" filter="url(#b15)"/>
<ellipse cx="731.7" cy="58.0" rx="5.7" ry="5.3" fill="#1f6f9a" opacity="0.58" filter="url(#b15)"/>
<ellipse cx="731.2" cy="159.8" rx="5.3" ry="4.3" fill="#2079a8" opacity="0.70" filter="url(#b15)"/>
<ellipse cx="736.3" cy="198.4" rx="5.2" ry="5.2" fill="#2b95bd" opacity="0.55" filter="url(#b15)"/>
<ellipse cx="907.3" cy="68.3" rx="4.8" ry="4.1" fill="#2b95bd" opacity="0.56" filter="url(#b15)"/>
<ellipse cx="739.2" cy="138.0" rx="5.4" ry="4.4" fill="#2079a8" opacity="0.53" filter="url(#b15)"/>
<ellipse cx="908.0" cy="91.3" rx="5.3" ry="5.2" fill="#2079a8" opacity="0.70" filter="url(#b15)"/>
<ellipse cx="798.8" cy="106.4" rx="4.7" ry="4.9" fill="#1f6f9a" opacity="0.66" filter="url(#b15)"/>
<ellipse cx="852.6" cy="148.8" rx="5.4" ry="4.8" fill="#1f6f9a" opacity="0.58" filter="url(#b15)"/>
<ellipse cx="769.8" cy="218.6" rx="5.8" ry="5.5" fill="#1f6f9a" opacity="0.38" filter="url(#b15)"/>
<ellipse cx="796.5" cy="242.1" rx="4.7" ry="3.8" fill="#2079a8" opacity="0.66" filter="url(#b15)"/>
<ellipse cx="703.6" cy="174.6" rx="5.2" ry="5.4" fill="#2a90b8" opacity="0.46" filter="url(#b15)"/>
<ellipse cx="839.7" cy="117.7" rx="5.4" ry="4.7" fill="#2b95bd" opacity="0.34" filter="url(#b15)"/>
<ellipse cx="870.6" cy="56.3" rx="4.1" ry="3.7" fill="#2380ad" opacity="0.37" filter="url(#b15)"/>
<ellipse cx="848.0" cy="45.4" rx="4.5" ry="4.0" fill="#1f6f9a" opacity="0.45" filter="url(#b15)"/>
<ellipse cx="847.6" cy="36.1" rx="4.8" ry="4.5" fill="#2b95bd" opacity="0.51" filter="url(#b15)"/>
<ellipse cx="901.6" cy="127.5" rx="5.6" ry="4.7" fill="#2b95bd" opacity="0.49" filter="url(#b15)"/>
<ellipse cx="814.3" cy="194.9" rx="4.2" ry="3.5" fill="#2380ad" opacity="0.49" filter="url(#b15)"/>
<ellipse cx="859.4" cy="196.3" rx="5.9" ry="5.4" fill="#1f6f9a" opacity="0.43" filter="url(#b15)"/>
<ellipse cx="869.3" cy="225.7" rx="5.0" ry="5.0" fill="#1a5a8a" opacity="0.34" filter="url(#b15)"/>
<ellipse cx="782.6" cy="143.7" rx="3.7" ry="3.4" fill="#1a5a8a" opacity="0.50" filter="url(#b15)"/>
<ellipse cx="781.0" cy="84.1" rx="5.2" ry="4.4" fill="#1a5a8a" opacity="0.36" filter="url(#b15)"/>
<ellipse cx="729.2" cy="149.1" rx="4.5" ry="4.5" fill="#1a5a8a" opacity="0.45" filter="url(#b15)"/>
<ellipse cx="848.0" cy="165.9" rx="5.1" ry="4.3" fill="#1a5a8a" opacity="0.38" filter="url(#b15)"/>
<ellipse cx="898.8" cy="129.0" rx="4.6" ry="4.4" fill="#1a5a8a" opacity="0.37" filter="url(#b15)"/>
<ellipse cx="902.7" cy="213.5" rx="4.4" ry="3.9" fill="#1a5a8a" opacity="0.47" filter="url(#b15)"/>
<ellipse cx="861.9" cy="77.7" rx="4.2" ry="3.5" fill="#1a5a8a" opacity="0.39" filter="url(#b15)"/>
<ellipse cx="904.0" cy="229.7" rx="5.4" ry="5.0" fill="#1a5a8a" opacity="0.40" filter="url(#b15)"/>
<ellipse cx="731.8" cy="139.7" rx="4.3" ry="3.9" fill="#1a5a8a" opacity="0.41" filter="url(#b15)"/>
<ellipse cx="876.7" cy="236.1" rx="5.4" ry="4.4" fill="#1a5a8a" opacity="0.45" filter="url(#b15)"/>
<ellipse cx="795.2" cy="161.2" rx="4.9" ry="5.0" fill="#1a5a8a" opacity="0.38" filter="url(#b15)"/>
<ellipse cx="882.3" cy="133.2" rx="4.9" ry="4.6" fill="#1a5a8a" opacity="0.28" filter="url(#b15)"/>
<ellipse cx="703.4" cy="85.2" rx="4.2" ry="3.7" fill="#1a5a8a" opacity="0.33" filter="url(#b15)"/>
<ellipse cx="798.2" cy="84.8" rx="5.1" ry="4.9" fill="#1a5a8a" opacity="0.26" filter="url(#b15)"/>
<ellipse cx="726.6" cy="191.8" rx="4.0" ry="3.7" fill="#1a5a8a" opacity="0.38" filter="url(#b15)"/>
<ellipse cx="818.4" cy="70.5" rx="3.9" ry="3.9" fill="#1a5a8a" opacity="0.38" filter="url(#b15)"/>
<ellipse cx="743.4" cy="238.0" rx="4.5" ry="4.0" fill="#1a5a8a" opacity="0.32" filter="url(#b15)"/>
<ellipse cx="789.0" cy="63.9" rx="5.0" ry="5.2" fill="#1a5a8a" opacity="0.42" filter="url(#b15)"/>
<ellipse cx="851.2" cy="166.4" rx="4.0" ry="3.3" fill="#1a5a8a" opacity="0.49" filter="url(#b15)"/>
<ellipse cx="894.0" cy="48.0" rx="5.1" ry="4.1" fill="#1a5a8a" opacity="0.43" filter="url(#b15)"/>
<ellipse cx="713.7" cy="191.1" rx="4.2" ry="4.4" fill="#1a5a8a" opacity="0.44" filter="url(#b15)"/>
<ellipse cx="855.1" cy="54.0" rx="3.8" ry="3.9" fill="#1a5a8a" opacity="0.36" filter="url(#b15)"/>
<ellipse cx="858.4" cy="144.5" rx="4.3" ry="4.1" fill="#1a5a8a" opacity="0.29" filter="url(#b15)"/>
<ellipse cx="710.3" cy="169.4" rx="4.6" ry="4.7" fill="#1a5a8a" opacity="0.37" filter="url(#b15)"/>
<ellipse cx="796.6" cy="236.1" rx="4.4" ry="4.4" fill="#1a5a8a" opacity="0.31" filter="url(#b15)"/>
<ellipse cx="824.0" cy="92.5" rx="4.9" ry="4.3" fill="#1a5a8a" opacity="0.43" filter="url(#b15)"/>
<ellipse cx="869.5" cy="185.0" rx="3.7" ry="3.5" fill="#1a5a8a" opacity="0.30" filter="url(#b15)"/>
<ellipse cx="900.6" cy="70.3" rx="5.1" ry="4.9" fill="#1a5a8a" opacity="0.28" filter="url(#b15)"/>
<ellipse cx="742.0" cy="206.7" rx="4.6" ry="3.8" fill="#1a5a8a" opacity="0.44" filter="url(#b15)"/>
<ellipse cx="730" cy="188" rx="4" ry="3.5" fill="#20c060" opacity="0.9" filter="url(#b1)"/>
<ellipse cx="734" cy="192" rx="3.5" ry="3" fill="#20c060" opacity="0.8" filter="url(#b1)"/>
<ellipse cx="727" cy="195" rx="3" ry="3" fill="#708070" opacity="0.6" filter="url(#b1)"/>
<ellipse cx="752" cy="54" rx="5" ry="4.5" fill="#2a8cc0" opacity="0.8" filter="url(#b15)"/>
<ellipse cx="783.5" cy="47" rx="5" ry="4.5" fill="#2a8cc0" opacity="0.8" filter="url(#b15)"/>
<ellipse cx="732" cy="76" rx="5" ry="4.5" fill="#2a8cc0" opacity="0.8" filter="url(#b15)"/>
<ellipse cx="758" cy="71" rx="5" ry="4.5" fill="#2a8cc0" opacity="0.8" filter="url(#b15)"/>
<ellipse cx="745" cy="96" rx="5" ry="4.5" fill="#2a8cc0" opacity="0.8" filter="url(#b15)"/>
<ellipse cx="789" cy="96" rx="5" ry="4.5" fill="#2a8cc0" opacity="0.8" filter="url(#b15)"/>
<ellipse cx="743" cy="104" rx="5" ry="4.5" fill="#2a8cc0" opacity="0.8" filter="url(#b15)"/>
<ellipse cx="760" cy="113" rx="5" ry="4.5" fill="#2a8cc0" opacity="0.8" filter="url(#b15)"/>
<ellipse cx="782" cy="124" rx="5" ry="4.5" fill="#2a8cc0" opacity="0.8" filter="url(#b15)"/>
<ellipse cx="796" cy="116.5" rx="5" ry="4.5" fill="#2a8cc0" opacity="0.8" filter="url(#b15)"/>
<ellipse cx="827" cy="96" rx="5" ry="4.5" fill="#2a8cc0" opacity="0.8" filter="url(#b15)"/>
<ellipse cx="853" cy="100" rx="5" ry="4.5" fill="#2a8cc0" opacity="0.8" filter="url(#b15)"/>
<ellipse cx="862" cy="93" rx="5" ry="4.5" fill="#2a8cc0" opacity="0.8" filter="url(#b15)"/>
<ellipse cx="840" cy="69" rx="5" ry="4.5" fill="#2a8cc0" opacity="0.8" filter="url(#b15)"/>
<ellipse cx="873" cy="49" rx="5" ry="4.5" fill="#2a8cc0" opacity="0.8" filter="url(#b15)"/>
<ellipse cx="866" cy="69" rx="5" ry="4.5" fill="#2a8cc0" opacity="0.8" filter="url(#b15)"/>
<ellipse cx="740" cy="124" rx="5" ry="4.5" fill="#2a8cc0" opacity="0.8" filter="url(#b15)"/>
<ellipse cx="772.5" cy="142" rx="5" ry="4.5" fill="#2a8cc0" opacity="0.8" filter="url(#b15)"/>
<ellipse cx="794.5" cy="153" rx="5" ry="4.5" fill="#2a8cc0" opacity="0.8" filter="url(#b15)"/>
<ellipse cx="814.6" cy="135" rx="5" ry="4.5" fill="#2a8cc0" opacity="0.8" filter="url(#b15)"/>
<ellipse cx="829" cy="129" rx="5" ry="4.5" fill="#2a8cc0" opacity="0.8" filter="url(#b15)"/>
<ellipse cx="845.7" cy="125.6" rx="5" ry="4.5" fill="#2a8cc0" opacity="0.8" filter="url(#b15)"/>
<ellipse cx="858.5" cy="109" rx="5" ry="4.5" fill="#2a8cc0" opacity="0.8" filter="url(#b15)"/>
<ellipse cx="855" cy="162" rx="5" ry="4.5" fill="#2a8cc0" opacity="0.8" filter="url(#b15)"/>
<ellipse cx="710" cy="146" rx="5" ry="4.5" fill="#2a8cc0" opacity="0.8" filter="url(#b15)"/>
<ellipse cx="723" cy="162" rx="5" ry="4.5" fill="#2a8cc0" opacity="0.8" filter="url(#b15)"/>
<ellipse cx="714" cy="164" rx="5" ry="4.5" fill="#2a8cc0" opacity="0.8" filter="url(#b15)"/>
<ellipse cx="767" cy="182" rx="5" ry="4.5" fill="#2a8cc0" opacity="0.8" filter="url(#b15)"/>
<ellipse cx="787" cy="193" rx="5" ry="4.5" fill="#2a8cc0" opacity="0.8" filter="url(#b15)"/>
<ellipse cx="767" cy="200.6" rx="5" ry="4.5" fill="#2a8cc0" opacity="0.8" filter="url(#b15)"/>
<ellipse cx="727.7" cy="209.8" rx="5" ry="4.5" fill="#2a8cc0" opacity="0.8" filter="url(#b15)"/>
<ellipse cx="756" cy="217" rx="5" ry="4.5" fill="#2a8cc0" opacity="0.8" filter="url(#b15)"/>
<ellipse cx="802" cy="224" rx="5" ry="4.5" fill="#2a8cc0" opacity="0.8" filter="url(#b15)"/>
<ellipse cx="873" cy="171" rx="5" ry="4.5" fill="#2a8cc0" opacity="0.8" filter="url(#b15)"/>
<ellipse cx="878.6" cy="178.7" rx="5" ry="4.5" fill="#2a8cc0" opacity="0.8" filter="url(#b15)"/>
<ellipse cx="858.5" cy="200.6" rx="5" ry="4.5" fill="#2a8cc0" opacity="0.8" filter="url(#b15)"/>
<ellipse cx="827" cy="215" rx="5" ry="4.5" fill="#2a8cc0" opacity="0.8" filter="url(#b15)"/>
<ellipse cx="834.7" cy="237" rx="5" ry="4.5" fill="#2a8cc0" opacity="0.8" filter="url(#b15)"/>
<ellipse cx="770.7" cy="242.7" rx="5" ry="4.5" fill="#2a8cc0" opacity="0.8" filter="url(#b15)"/>
<ellipse cx="811" cy="219" rx="5" ry="4.5" fill="#2a8cc0" opacity="0.8" filter="url(#b15)"/>
<ellipse cx="732" cy="63.4" rx="4.5" ry="4.5" fill="#28d070" opacity="0.85" filter="url(#b15)"/>
<ellipse cx="770.7" cy="83.6" rx="4.5" ry="4.5" fill="#28d070" opacity="0.85" filter="url(#b15)"/>
<ellipse cx="721" cy="91" rx="4.5" ry="4.5" fill="#28d070" opacity="0.85" filter="url(#b15)"/>
<ellipse cx="826.5" cy="91" rx="4.5" ry="4.5" fill="#28d070" opacity="0.85" filter="url(#b15)"/>
<ellipse cx="811" cy="96" rx="4.5" ry="4.5" fill="#28d070" opacity="0.85" filter="url(#b15)"/>
<ellipse cx="886" cy="106" rx="4.5" ry="4.5" fill="#28d070" opacity="0.85" filter="url(#b15)"/>
<ellipse cx="856.6" cy="127.5" rx="4.5" ry="4.5" fill="#28d070" opacity="0.85" filter="url(#b15)"/>
<ellipse cx="868.5" cy="148.5" rx="4.5" ry="4.5" fill="#28d070" opacity="0.85" filter="url(#b15)"/>
<ellipse cx="708.5" cy="168" rx="4.5" ry="4.5" fill="#28d070" opacity="0.85" filter="url(#b15)"/>
<ellipse cx="709" cy="113" rx="8" ry="14" fill="#c8d0cc" opacity="0.6" filter="url(#b2)"/>
<ellipse cx="760" cy="100" rx="12" ry="8" fill="#c8d0cc" opacity="0.35" filter="url(#b2)"/>
<ellipse cx="830" cy="60" rx="20" ry="15" fill="#c8d0cc" opacity="0.35" filter="url(#b2)"/>
<ellipse cx="880" cy="110" rx="20" ry="20" fill="#c8d0cc" opacity="0.3" filter="url(#b2)"/>
<ellipse cx="760" cy="60" rx="14" ry="12" fill="#c8d0cc" opacity="0.35" filter="url(#b2)"/>
<ellipse cx="712" cy="50" rx="10" ry="14" fill="#c8d0cc" opacity="0.45" filter="url(#b2)"/>
<ellipse cx="830" cy="225" rx="20" ry="12" fill="#c8d0cc" opacity="0.25" filter="url(#b2)"/>
<ellipse cx="780" cy="232" rx="14" ry="10" fill="#c8d0cc" opacity="0.3" filter="url(#b2)"/>
<ellipse cx="900" cy="225" rx="15" ry="15" fill="#c8d0cc" opacity="0.35" filter="url(#b2)"/>
<ellipse cx="870" cy="45" rx="25" ry="10" fill="#c8d0cc" opacity="0.4" filter="url(#b2)"/>
<ellipse cx="740" cy="45" rx="25" ry="10" fill="#c8d0cc" opacity="0.35" filter="url(#b2)"/>
<ellipse cx="790" cy="95" rx="12" ry="8" fill="#c8d0cc" opacity="0.35" filter="url(#b2)"/>
<g filter="url(#rough)"><ellipse cx="712" cy="72" rx="9" ry="7" fill="#f4f6f4" transform="rotate(25 712 72)"/></g>
<g filter="url(#rough)"><ellipse cx="896" cy="64" rx="13" ry="7" fill="#f4f6f4" transform="rotate(-38 896 64)"/></g>
<g filter="url(#rough)"><ellipse cx="903" cy="58" rx="5" ry="8" fill="#f4f6f4" transform="rotate(0 903 58)"/></g>
<g filter="url(#rough)"><ellipse cx="901" cy="100" rx="7" ry="6" fill="#f4f6f4" transform="rotate(14 901 100)"/></g>
<g filter="url(#rough)"><ellipse cx="886" cy="131" rx="6" ry="8" fill="#f4f6f4" transform="rotate(12 886 131)"/></g>
<g filter="url(#rough)"><ellipse cx="748" cy="162" rx="10" ry="9" fill="#f4f6f4" transform="rotate(-39 748 162)"/></g>
<g filter="url(#rough)"><ellipse cx="741" cy="170" rx="6" ry="7" fill="#f4f6f4" transform="rotate(-19 741 170)"/></g>
<g filter="url(#rough)"><ellipse cx="755" cy="155" rx="5" ry="5" fill="#f4f6f4" transform="rotate(-24 755 155)"/></g>
<g filter="url(#rough)"><ellipse cx="859" cy="191" rx="7" ry="6" fill="#f4f6f4" transform="rotate(21 859 191)"/></g>
<g filter="url(#rough)"><ellipse cx="909" cy="207" rx="6" ry="9" fill="#f4f6f4" transform="rotate(-31 909 207)"/></g>
<g filter="url(#rough)"><ellipse cx="743" cy="229" rx="6" ry="8" fill="#f4f6f4" transform="rotate(-20 743 229)"/></g>
<g filter="url(#rough)"><ellipse cx="909" cy="238" rx="4" ry="7" fill="#f4f6f4" transform="rotate(-8 909 238)"/></g>
<g filter="url(#rough)"><ellipse cx="851" cy="40" rx="6" ry="4" fill="#f4f6f4" transform="rotate(2 851 40)"/></g>
<g filter="url(#rough)"><ellipse cx="906" cy="40" rx="7" ry="4" fill="#f4f6f4" transform="rotate(-18 906 40)"/></g>
<g filter="url(#rough)"><ellipse cx="826" cy="242" rx="5" ry="4" fill="#f4f6f4" transform="rotate(-32 826 242)"/></g>
<g filter="url(#rough)"><ellipse cx="873" cy="231" rx="5" ry="5" fill="#f4f6f4" transform="rotate(-11 873 231)"/></g>
<path d="M771 116 Q773 137 793 137 Q811 136 812 117" fill="none" stroke="#f0f2f0" stroke-width="8" stroke-linecap="round" filter="url(#rough)"/><ellipse cx="903" cy="180" rx="14" ry="38" fill="#1f6a20" opacity="0.5" filter="url(#b4)"/>
<g filter="url(#rough)"><ellipse cx="806" cy="47" rx="8" ry="10" fill="#3a4a42" stroke="#eef0ee" stroke-width="3"/></g>
<g filter="url(#rough)"><ellipse cx="882" cy="201" rx="7" ry="8" fill="#3a4a42" stroke="#eef0ee" stroke-width="3"/></g>
</g>
<clipPath id="clip5"><rect x="918" y="36" width="212" height="211.5"/></clipPath>
<g clip-path="url(#clip5)">
<rect x="918" y="36" width="212" height="211.5" fill="#0f1a15"/>
<filter id="sp5" x="0" y="0" width="100%" height="100%" filterUnits="userSpaceOnUse"><feTurbulence type="fractalNoise" baseFrequency="0.38" numOctaves="2" seed="5"/><feColorMatrix type="matrix" values="0 0 0 0 0.3 0 0 0 0 0.42 0 0 0 0 0.38 0.352 0 0 0 -0.144"/></filter>
<rect x="918" y="36" width="212" height="211.5" filter="url(#sp5)"/>
<ellipse cx="1050.1" cy="192.9" rx="5.7" ry="4.6" fill="#2079a8" opacity="0.50" filter="url(#b15)"/>
<ellipse cx="1118.0" cy="173.3" rx="6.0" ry="5.3" fill="#2380ad" opacity="0.66" filter="url(#b15)"/>
<ellipse cx="998.7" cy="57.6" rx="4.5" ry="4.1" fill="#2a90b8" opacity="0.38" filter="url(#b15)"/>
<ellipse cx="1101.9" cy="118.4" rx="5.7" ry="4.7" fill="#2380ad" opacity="0.56" filter="url(#b15)"/>
<ellipse cx="944.9" cy="36.4" rx="5.9" ry="5.9" fill="#2a90b8" opacity="0.70" filter="url(#b15)"/>
<ellipse cx="953.2" cy="71.2" rx="4.7" ry="4.4" fill="#2a90b8" opacity="0.58" filter="url(#b15)"/>
<ellipse cx="961.4" cy="235.0" rx="5.5" ry="4.8" fill="#2b95bd" opacity="0.45" filter="url(#b15)"/>
<ellipse cx="953.2" cy="66.8" rx="4.1" ry="4.2" fill="#1f6f9a" opacity="0.55" filter="url(#b15)"/>
<ellipse cx="1044.3" cy="185.7" rx="4.1" ry="4.2" fill="#1f6f9a" opacity="0.50" filter="url(#b15)"/>
<ellipse cx="984.9" cy="137.8" rx="5.6" ry="4.8" fill="#2380ad" opacity="0.69" filter="url(#b15)"/>
<ellipse cx="1119.2" cy="111.6" rx="4.9" ry="4.9" fill="#2079a8" opacity="0.45" filter="url(#b15)"/>
<ellipse cx="1040.6" cy="37.9" rx="4.1" ry="3.9" fill="#2a90b8" opacity="0.70" filter="url(#b15)"/>
<ellipse cx="943.2" cy="88.0" rx="5.8" ry="5.1" fill="#2b95bd" opacity="0.45" filter="url(#b15)"/>
<ellipse cx="1029.2" cy="200.0" rx="4.2" ry="4.3" fill="#1f6f9a" opacity="0.32" filter="url(#b15)"/>
<ellipse cx="1118.5" cy="55.3" rx="4.7" ry="4.2" fill="#2079a8" opacity="0.36" filter="url(#b15)"/>
<ellipse cx="976.4" cy="184.6" rx="4.2" ry="3.7" fill="#1f6f9a" opacity="0.64" filter="url(#b15)"/>
<ellipse cx="1050.9" cy="188.5" rx="4.7" ry="3.9" fill="#2b95bd" opacity="0.32" filter="url(#b15)"/>
<ellipse cx="1127.2" cy="148.8" rx="4.9" ry="4.8" fill="#2a90b8" opacity="0.44" filter="url(#b15)"/>
<ellipse cx="971.0" cy="173.7" rx="4.3" ry="4.3" fill="#2380ad" opacity="0.44" filter="url(#b15)"/>
<ellipse cx="961.9" cy="243.5" rx="5.2" ry="5.0" fill="#2a90b8" opacity="0.63" filter="url(#b15)"/>
<ellipse cx="940.6" cy="127.9" rx="4.3" ry="3.8" fill="#2b95bd" opacity="0.49" filter="url(#b15)"/>
<ellipse cx="1129.9" cy="216.3" rx="6.1" ry="6.4" fill="#2b95bd" opacity="0.59" filter="url(#b15)"/>
<ellipse cx="985.4" cy="94.0" rx="5.0" ry="4.2" fill="#2a90b8" opacity="0.65" filter="url(#b15)"/>
<ellipse cx="1030.7" cy="73.9" rx="6.1" ry="5.1" fill="#1f6f9a" opacity="0.51" filter="url(#b15)"/>
<ellipse cx="1027.2" cy="151.9" rx="5.1" ry="5.1" fill="#2380ad" opacity="0.63" filter="url(#b15)"/>
<ellipse cx="1065.3" cy="176.4" rx="5.7" ry="5.3" fill="#1f6f9a" opacity="0.58" filter="url(#b15)"/>
<ellipse cx="1095.1" cy="92.0" rx="6.2" ry="6.4" fill="#1f6f9a" opacity="0.44" filter="url(#b15)"/>
<ellipse cx="955.9" cy="216.2" rx="5.0" ry="4.4" fill="#1f6f9a" opacity="0.41" filter="url(#b15)"/>
<ellipse cx="979.2" cy="141.8" rx="5.5" ry="4.9" fill="#1f6f9a" opacity="0.57" filter="url(#b15)"/>
<ellipse cx="1074.4" cy="211.2" rx="4.8" ry="4.9" fill="#2a90b8" opacity="0.59" filter="url(#b15)"/>
<ellipse cx="1124.9" cy="238.3" rx="5.1" ry="5.4" fill="#2079a8" opacity="0.38" filter="url(#b15)"/>
<ellipse cx="994.8" cy="216.6" rx="4.6" ry="4.5" fill="#2380ad" opacity="0.61" filter="url(#b15)"/>
<ellipse cx="954.4" cy="201.0" rx="5.3" ry="4.6" fill="#2b95bd" opacity="0.53" filter="url(#b15)"/>
<ellipse cx="1101.8" cy="93.3" rx="6.2" ry="5.2" fill="#2a90b8" opacity="0.49" filter="url(#b15)"/>
<ellipse cx="1055.8" cy="82.3" rx="5.5" ry="5.8" fill="#2380ad" opacity="0.71" filter="url(#b15)"/>
<ellipse cx="953.1" cy="224.6" rx="4.2" ry="3.9" fill="#2a90b8" opacity="0.53" filter="url(#b15)"/>
<ellipse cx="1006.1" cy="110.3" rx="5.5" ry="5.2" fill="#2380ad" opacity="0.40" filter="url(#b15)"/>
<ellipse cx="1109.5" cy="36.1" rx="4.9" ry="5.0" fill="#1f6f9a" opacity="0.66" filter="url(#b15)"/>
<ellipse cx="1064.0" cy="151.7" rx="6.1" ry="5.8" fill="#2079a8" opacity="0.34" filter="url(#b15)"/>
<ellipse cx="1033.6" cy="107.8" rx="5.3" ry="5.3" fill="#1f6f9a" opacity="0.48" filter="url(#b15)"/>
<ellipse cx="1090.4" cy="171.8" rx="4.8" ry="4.0" fill="#2a90b8" opacity="0.46" filter="url(#b15)"/>
<ellipse cx="1019.1" cy="78.1" rx="4.3" ry="3.8" fill="#2380ad" opacity="0.68" filter="url(#b15)"/>
<ellipse cx="918.2" cy="58.8" rx="5.2" ry="4.9" fill="#2079a8" opacity="0.44" filter="url(#b15)"/>
<ellipse cx="1103.8" cy="155.3" rx="4.9" ry="4.6" fill="#2a90b8" opacity="0.50" filter="url(#b15)"/>
<ellipse cx="1068.2" cy="117.2" rx="5.9" ry="5.6" fill="#2a90b8" opacity="0.41" filter="url(#b15)"/>
<ellipse cx="1126.0" cy="141.0" rx="4.3" ry="3.8" fill="#1a5a8a" opacity="0.50" filter="url(#b15)"/>
<ellipse cx="1022.3" cy="96.6" rx="4.5" ry="3.7" fill="#1a5a8a" opacity="0.41" filter="url(#b15)"/>
<ellipse cx="1012.0" cy="98.0" rx="5.1" ry="5.1" fill="#1a5a8a" opacity="0.25" filter="url(#b15)"/>
<ellipse cx="1030.9" cy="93.9" rx="5.4" ry="5.3" fill="#1a5a8a" opacity="0.31" filter="url(#b15)"/>
<ellipse cx="974.7" cy="68.7" rx="5.5" ry="4.8" fill="#1a5a8a" opacity="0.40" filter="url(#b15)"/>
<ellipse cx="1018.6" cy="172.4" rx="4.7" ry="4.6" fill="#1a5a8a" opacity="0.28" filter="url(#b15)"/>
<ellipse cx="1079.2" cy="99.6" rx="4.6" ry="4.0" fill="#1a5a8a" opacity="0.32" filter="url(#b15)"/>
<ellipse cx="1030.3" cy="134.2" rx="4.2" ry="4.2" fill="#1a5a8a" opacity="0.40" filter="url(#b15)"/>
<ellipse cx="925.7" cy="89.4" rx="4.4" ry="4.5" fill="#1a5a8a" opacity="0.47" filter="url(#b15)"/>
<ellipse cx="1033.7" cy="39.1" rx="5.1" ry="4.6" fill="#1a5a8a" opacity="0.39" filter="url(#b15)"/>
<ellipse cx="1068.1" cy="169.7" rx="4.5" ry="4.6" fill="#1a5a8a" opacity="0.35" filter="url(#b15)"/>
<ellipse cx="1001.1" cy="216.2" rx="3.9" ry="3.4" fill="#1a5a8a" opacity="0.46" filter="url(#b15)"/>
<ellipse cx="932.0" cy="212.9" rx="4.9" ry="4.4" fill="#1a5a8a" opacity="0.32" filter="url(#b15)"/>
<ellipse cx="1083.5" cy="228.6" rx="3.8" ry="3.5" fill="#1a5a8a" opacity="0.39" filter="url(#b15)"/>
<ellipse cx="1023.5" cy="106.0" rx="3.8" ry="3.6" fill="#1a5a8a" opacity="0.45" filter="url(#b15)"/>
<ellipse cx="932.5" cy="84.6" rx="5.1" ry="5.1" fill="#1a5a8a" opacity="0.42" filter="url(#b15)"/>
<ellipse cx="923.4" cy="188.8" rx="5.5" ry="5.7" fill="#1a5a8a" opacity="0.43" filter="url(#b15)"/>
<ellipse cx="928.4" cy="214.1" rx="3.9" ry="3.8" fill="#1a5a8a" opacity="0.49" filter="url(#b15)"/>
<ellipse cx="1069.0" cy="64.5" rx="4.1" ry="4.2" fill="#1a5a8a" opacity="0.29" filter="url(#b15)"/>
<ellipse cx="1047.4" cy="123.5" rx="3.8" ry="3.7" fill="#1a5a8a" opacity="0.26" filter="url(#b15)"/>
<ellipse cx="940.9" cy="116.2" rx="3.6" ry="3.0" fill="#1a5a8a" opacity="0.39" filter="url(#b15)"/>
<ellipse cx="1075.4" cy="221.8" rx="3.8" ry="3.4" fill="#1a5a8a" opacity="0.33" filter="url(#b15)"/>
<ellipse cx="1045.2" cy="139.5" rx="5.4" ry="4.8" fill="#1a5a8a" opacity="0.26" filter="url(#b15)"/>
<ellipse cx="1065.8" cy="68.0" rx="4.8" ry="4.4" fill="#1a5a8a" opacity="0.48" filter="url(#b15)"/>
<ellipse cx="1035.6" cy="167.3" rx="4.0" ry="3.8" fill="#1a5a8a" opacity="0.31" filter="url(#b15)"/>
<ellipse cx="1077.1" cy="145.3" rx="3.8" ry="3.2" fill="#1a5a8a" opacity="0.34" filter="url(#b15)"/>
<ellipse cx="1074.2" cy="73.9" rx="4.9" ry="4.7" fill="#1a5a8a" opacity="0.27" filter="url(#b15)"/>
<ellipse cx="1059.6" cy="55.3" rx="3.7" ry="3.6" fill="#1a5a8a" opacity="0.31" filter="url(#b15)"/>
<ellipse cx="1103.9" cy="137.6" rx="4.1" ry="4.1" fill="#1a5a8a" opacity="0.26" filter="url(#b15)"/>
<ellipse cx="1071.7" cy="47.3" rx="3.8" ry="3.9" fill="#1a5a8a" opacity="0.42" filter="url(#b15)"/>
<ellipse cx="965.3" cy="60.6" rx="5.4" ry="5.3" fill="#1a5a8a" opacity="0.46" filter="url(#b15)"/>
<ellipse cx="947.6" cy="168.1" rx="4.2" ry="3.6" fill="#1a5a8a" opacity="0.33" filter="url(#b15)"/>
<ellipse cx="1048.1" cy="109.7" rx="4.3" ry="3.6" fill="#1a5a8a" opacity="0.46" filter="url(#b15)"/>
<ellipse cx="1055.4" cy="206.2" rx="4.4" ry="4.4" fill="#1a5a8a" opacity="0.38" filter="url(#b15)"/>
<ellipse cx="1043.6" cy="157.2" rx="5.0" ry="4.5" fill="#1a5a8a" opacity="0.27" filter="url(#b15)"/>
<ellipse cx="925.0" cy="78.8" rx="3.6" ry="3.7" fill="#1a5a8a" opacity="0.37" filter="url(#b15)"/>
<ellipse cx="1079.2" cy="36.1" rx="4.4" ry="4.5" fill="#1a5a8a" opacity="0.40" filter="url(#b15)"/>
<ellipse cx="1008.9" cy="134.5" rx="3.7" ry="3.1" fill="#1a5a8a" opacity="0.29" filter="url(#b15)"/>
<ellipse cx="997.4" cy="117.6" rx="5.3" ry="4.4" fill="#1a5a8a" opacity="0.31" filter="url(#b15)"/>
<ellipse cx="976.8" cy="70.2" rx="4.1" ry="3.5" fill="#1a5a8a" opacity="0.37" filter="url(#b15)"/>
<ellipse cx="935" cy="47" rx="5" ry="4.5" fill="#2a8cc0" opacity="0.8" filter="url(#b15)"/>
<ellipse cx="962" cy="44" rx="5" ry="4.5" fill="#2a8cc0" opacity="0.8" filter="url(#b15)"/>
<ellipse cx="936" cy="73.5" rx="5" ry="4.5" fill="#2a8cc0" opacity="0.8" filter="url(#b15)"/>
<ellipse cx="962" cy="75" rx="5" ry="4.5" fill="#2a8cc0" opacity="0.8" filter="url(#b15)"/>
<ellipse cx="984" cy="74" rx="5" ry="4.5" fill="#2a8cc0" opacity="0.8" filter="url(#b15)"/>
<ellipse cx="1026" cy="65" rx="5" ry="4.5" fill="#2a8cc0" opacity="0.8" filter="url(#b15)"/>
<ellipse cx="987.5" cy="84.5" rx="5" ry="4.5" fill="#2a8cc0" opacity="0.8" filter="url(#b15)"/>
<ellipse cx="942" cy="100" rx="5" ry="4.5" fill="#2a8cc0" opacity="0.8" filter="url(#b15)"/>
<ellipse cx="923.5" cy="103.7" rx="5" ry="4.5" fill="#2a8cc0" opacity="0.8" filter="url(#b15)"/>
<ellipse cx="972" cy="125.6" rx="5" ry="4.5" fill="#2a8cc0" opacity="0.8" filter="url(#b15)"/>
<ellipse cx="951" cy="114.7" rx="5" ry="4.5" fill="#2a8cc0" opacity="0.8" filter="url(#b15)"/>
<ellipse cx="964.6" cy="131" rx="5" ry="4.5" fill="#2a8cc0" opacity="0.8" filter="url(#b15)"/>
<ellipse cx="980" cy="153" rx="5" ry="4.5" fill="#2a8cc0" opacity="0.8" filter="url(#b15)"/>
<ellipse cx="996.6" cy="138.4" rx="5" ry="4.5" fill="#2a8cc0" opacity="0.8" filter="url(#b15)"/>
<ellipse cx="936" cy="171" rx="5" ry="4.5" fill="#2a8cc0" opacity="0.8" filter="url(#b15)"/>
<ellipse cx="971" cy="186" rx="5" ry="4.5" fill="#2a8cc0" opacity="0.8" filter="url(#b15)"/>
<ellipse cx="995" cy="190.6" rx="5" ry="4.5" fill="#2a8cc0" opacity="0.8" filter="url(#b15)"/>
<ellipse cx="985.7" cy="202.5" rx="5" ry="4.5" fill="#2a8cc0" opacity="0.8" filter="url(#b15)"/>
<ellipse cx="1013" cy="198" rx="5" ry="4.5" fill="#2a8cc0" opacity="0.8" filter="url(#b15)"/>
<ellipse cx="962" cy="211.6" rx="5" ry="4.5" fill="#2a8cc0" opacity="0.8" filter="url(#b15)"/>
<ellipse cx="1049.7" cy="103.7" rx="5" ry="4.5" fill="#2a8cc0" opacity="0.8" filter="url(#b15)"/>
<ellipse cx="1048" cy="112.8" rx="5" ry="4.5" fill="#2a8cc0" opacity="0.8" filter="url(#b15)"/>
<ellipse cx="1073.5" cy="122" rx="5" ry="4.5" fill="#2a8cc0" opacity="0.8" filter="url(#b15)"/>
<ellipse cx="1088" cy="138.4" rx="5" ry="4.5" fill="#2a8cc0" opacity="0.8" filter="url(#b15)"/>
<ellipse cx="1101" cy="144" rx="5" ry="4.5" fill="#2a8cc0" opacity="0.8" filter="url(#b15)"/>
<ellipse cx="1035" cy="156.7" rx="5" ry="4.5" fill="#2a8cc0" opacity="0.8" filter="url(#b15)"/>
<ellipse cx="1062.5" cy="171" rx="5" ry="4.5" fill="#2a8cc0" opacity="0.8" filter="url(#b15)"/>
<ellipse cx="1108" cy="167.7" rx="5" ry="4.5" fill="#2a8cc0" opacity="0.8" filter="url(#b15)"/>
<ellipse cx="1108" cy="195" rx="5" ry="4.5" fill="#2a8cc0" opacity="0.8" filter="url(#b15)"/>
<ellipse cx="1046" cy="209.8" rx="5" ry="4.5" fill="#2a8cc0" opacity="0.8" filter="url(#b15)"/>
<ellipse cx="1051.5" cy="222.6" rx="5" ry="4.5" fill="#2a8cc0" opacity="0.8" filter="url(#b15)"/>
<ellipse cx="1064" cy="211.6" rx="5" ry="4.5" fill="#2a8cc0" opacity="0.8" filter="url(#b15)"/>
<ellipse cx="1093.6" cy="215" rx="5" ry="4.5" fill="#2a8cc0" opacity="0.8" filter="url(#b15)"/>
<ellipse cx="1123" cy="153" rx="5" ry="4.5" fill="#2a8cc0" opacity="0.8" filter="url(#b15)"/>
<ellipse cx="1125" cy="178.7" rx="5" ry="4.5" fill="#2a8cc0" opacity="0.8" filter="url(#b15)"/>
<ellipse cx="1101" cy="116.5" rx="5" ry="4.5" fill="#2a8cc0" opacity="0.8" filter="url(#b15)"/>
<ellipse cx="1117" cy="105.5" rx="5" ry="4.5" fill="#2a8cc0" opacity="0.8" filter="url(#b15)"/>
<ellipse cx="1119" cy="127.5" rx="5" ry="4.5" fill="#2a8cc0" opacity="0.8" filter="url(#b15)"/>
<ellipse cx="966.5" cy="57" rx="5" ry="4.5" fill="#28e070" opacity="0.9" filter="url(#b15)"/>
<ellipse cx="1017.7" cy="95.4" rx="5" ry="4.5" fill="#28e070" opacity="0.9" filter="url(#b15)"/>
<ellipse cx="1007.6" cy="100" rx="5" ry="4.5" fill="#28e070" opacity="0.9" filter="url(#b15)"/>
<ellipse cx="937" cy="141" rx="5" ry="4.5" fill="#28e070" opacity="0.9" filter="url(#b15)"/>
<ellipse cx="957" cy="153" rx="5" ry="4.5" fill="#28e070" opacity="0.9" filter="url(#b15)"/>
<ellipse cx="932.6" cy="212.5" rx="5" ry="4.5" fill="#28e070" opacity="0.9" filter="url(#b15)"/>
<ellipse cx="1101" cy="182" rx="5" ry="4.5" fill="#28e070" opacity="0.9" filter="url(#b15)"/>
<ellipse cx="1123" cy="89" rx="5" ry="4.5" fill="#28e070" opacity="0.9" filter="url(#b15)"/>
<polygon points="945,34 1076,34 1074,42 1052,50 1030,58 1002,61 975,56 957,47 947,42" fill="#000" opacity="1.0" filter="url(#b1)"/>
<ellipse cx="1008" cy="173" rx="8" ry="9" fill="#c8d0cc" opacity="0.7" filter="url(#b2)"/>
<ellipse cx="1100" cy="62" rx="25" ry="16" fill="#c8d0cc" opacity="0.45" filter="url(#b2)"/>
<ellipse cx="1110" cy="80" rx="15" ry="10" fill="#c8d0cc" opacity="0.35" filter="url(#b2)"/>
<ellipse cx="1020" cy="133" rx="12" ry="5" fill="#c8d0cc" opacity="0.45" filter="url(#b2)"/>
<ellipse cx="1028" cy="125" rx="4" ry="10" fill="#c8d0cc" opacity="0.4" filter="url(#b2)"/>
<ellipse cx="1060" cy="55" rx="12" ry="8" fill="#c8d0cc" opacity="0.25" filter="url(#b2)"/>
<g filter="url(#rough)"><ellipse cx="1028" cy="197" rx="6" ry="7" fill="#f4f6f4" transform="rotate(-37 1028 197)"/></g>
</g>
<rect x="1136" y="36" width="103" height="102" fill="#060606"/>
<clipPath id="ci1"><rect x="1136" y="36" width="103" height="102"/></clipPath><g clip-path="url(#ci1)" filter="url(#b4)"><ellipse cx="1152" cy="62" rx="8" ry="7" fill="#6a6a6a" transform="rotate(0 1152 62)"/><ellipse cx="1137" cy="57" rx="4" ry="7" fill="#a0a0a0" transform="rotate(0 1137 57)"/><ellipse cx="1165" cy="98" rx="8" ry="19" fill="#7c7c7c" transform="rotate(-15 1165 98)"/><ellipse cx="1189" cy="108" rx="21" ry="7" fill="#585858" transform="rotate(-18 1189 108)"/><ellipse cx="1151" cy="120" rx="15" ry="9" fill="#5a5a5a" transform="rotate(0 1151 120)"/><ellipse cx="1176" cy="122" rx="11" ry="8" fill="#686868" transform="rotate(0 1176 122)"/><ellipse cx="1234" cy="98" rx="8" ry="14" fill="#ffffff" transform="rotate(0 1234 98)"/><ellipse cx="1235" cy="91" rx="5" ry="8" fill="#d0d0d0" transform="rotate(0 1235 91)"/><ellipse cx="1211" cy="135" rx="7" ry="7" fill="#585858" transform="rotate(0 1211 135)"/><ellipse cx="1191" cy="42" rx="28" ry="7" fill="#2c2c2c" transform="rotate(0 1191 42)"/><ellipse cx="1221" cy="46" rx="10" ry="6" fill="#3a3a3a" transform="rotate(0 1221 46)"/></g>
<rect x="1246" y="36" width="102" height="102" fill="#021503"/>
<clipPath id="ci2"><rect x="1246" y="36" width="102" height="102"/></clipPath><g clip-path="url(#ci2)" filter="url(#b8)"><ellipse cx="1298" cy="72" rx="22" ry="18" fill="#157a22" transform="rotate(25 1298 72)"/><ellipse cx="1292" cy="64" rx="9" ry="8" fill="#1c8c2a"/><ellipse cx="1308" cy="82" rx="9" ry="8" fill="#1a8628"/></g>
<rect x="1136" y="145" width="103" height="102" fill="#010204"/>
<clipPath id="ci3"><rect x="1136" y="145" width="103" height="102"/></clipPath><g clip-path="url(#ci3)" filter="url(#b4)"><ellipse cx="1190" cy="186" rx="19" ry="24" fill="#0b3560" transform="rotate(-35 1190 186)"/><ellipse cx="1181" cy="170" rx="6" ry="6" fill="#1c72bc"/><ellipse cx="1200" cy="190" rx="6" ry="6" fill="#1a6cb4"/><ellipse cx="1225" cy="240" rx="8" ry="6" fill="#081830"/></g>
<rect x="1246" y="145" width="102" height="102" fill="#08170e"/>
<clipPath id="ci4"><rect x="1246" y="145" width="102" height="102"/></clipPath><g clip-path="url(#ci4)" filter="url(#b4)"><ellipse cx="1262" cy="171" rx="8" ry="7" fill="#5a6e5d" transform="rotate(0 1262 171)"/><ellipse cx="1247" cy="166" rx="4" ry="7" fill="#88a28c" transform="rotate(0 1247 166)"/><ellipse cx="1275" cy="207" rx="8" ry="19" fill="#697f6d" transform="rotate(-15 1275 207)"/><ellipse cx="1299" cy="217" rx="21" ry="7" fill="#4a5d4d" transform="rotate(-18 1299 217)"/><ellipse cx="1261" cy="229" rx="15" ry="9" fill="#4c5f4f" transform="rotate(0 1261 229)"/><ellipse cx="1286" cy="231" rx="11" ry="8" fill="#586c5b" transform="rotate(0 1286 231)"/><ellipse cx="1344" cy="207" rx="8" ry="14" fill="#d8fce0" transform="rotate(0 1344 207)"/><ellipse cx="1345" cy="200" rx="5" ry="8" fill="#b0cfb7" transform="rotate(0 1345 200)"/><ellipse cx="1321" cy="244" rx="7" ry="7" fill="#4a5d4d" transform="rotate(0 1321 244)"/><ellipse cx="1301" cy="151" rx="28" ry="7" fill="#253326" transform="rotate(0 1301 151)"/><ellipse cx="1331" cy="155" rx="10" ry="6" fill="#314133" transform="rotate(0 1331 155)"/><ellipse cx="1299" cy="183" rx="21" ry="24" fill="#0f7a35" opacity="0.95" transform="rotate(-35 1299 183)"/><ellipse cx="1291" cy="168" rx="7" ry="7" fill="#18a0a0"/><ellipse cx="1310" cy="188" rx="7" ry="7" fill="#12a080"/></g>
<rect x="720.5" y="182.4" width="20.9" height="20.7" fill="none" stroke="#fff" stroke-width="1.4"/>
<line x1="741.4" y1="182.4" x2="1129.6" y2="35.6" stroke="#fff" stroke-width="2.6"/>
<line x1="741.4" y1="203.1" x2="1129.6" y2="248" stroke="#fff" stroke-width="2.6"/>
<text x="76" y="69" font-size="22.5" font-weight="bold" fill="#fff">Fe<tspan font-size="15" dy="-8">3+</tspan><tspan dy="8">/</tspan><tspan fill="#22c860">OLIG2/</tspan><tspan fill="#2a80d8">DAPI</tspan></text>
<rect x="190.5" y="232.6" width="72.3" height="2.8" fill="#f4f4f4"/>
<text transform="translate(1.5,284.6) scale(0.95,1.07)" font-size="34" font-weight="bold">B</text>
<line x1="167" y1="641.0" x2="174" y2="641.0" stroke="#000" stroke-width="2.1"/>
<text x="165.5" y="652.0" font-size="32" text-anchor="end" font-weight="normal" fill="#000" >0</text>
<line x1="167" y1="555.75" x2="174" y2="555.75" stroke="#000" stroke-width="2.1"/>
<text x="165.5" y="566.75" font-size="32" text-anchor="end" font-weight="normal" fill="#000" >75</text>
<line x1="167" y1="470.5" x2="174" y2="470.5" stroke="#000" stroke-width="2.1"/>
<text class="has1" x="165.5" y="481.5" font-size="32" text-anchor="end" font-weight="normal" fill="#000" >150</text>
<line x1="167" y1="385.25" x2="174" y2="385.25" stroke="#000" stroke-width="2.1"/>
<text x="165.5" y="396.25" font-size="32" text-anchor="end" font-weight="normal" fill="#000" >225</text>
<line x1="167" y1="300.0" x2="174" y2="300.0" stroke="#000" stroke-width="2.1"/>
<text x="165.5" y="311.0" font-size="32" text-anchor="end" font-weight="normal" fill="#000" >300</text>
<rect x="174" y="300" width="341.5" height="341" fill="none" stroke="#000" stroke-width="2.1"/>
<line x1="216.7" y1="624.1" x2="216.7" y2="593.3" stroke="#000" stroke-width="2.1"/>
<line x1="206.2" y1="593.3" x2="227.2" y2="593.3" stroke="#000" stroke-width="2.1"/>
<rect x="196.2" y="624.1" width="41" height="16.899999999999977" fill="#fff" stroke="#000" stroke-width="2.1"/>
<line x1="216.7" y1="641" x2="216.7" y2="648" stroke="#000" stroke-width="2.1"/>
<line x1="280.6" y1="483.6" x2="280.6" y2="430.4" stroke="#000" stroke-width="2.1"/>
<line x1="270.1" y1="430.4" x2="291.1" y2="430.4" stroke="#000" stroke-width="2.1"/>
<rect x="260.1" y="483.6" width="41" height="157.39999999999998" fill="#fff" stroke="#000" stroke-width="2.1"/>
<line x1="280.6" y1="641" x2="280.6" y2="648" stroke="#000" stroke-width="2.1"/>
<line x1="344.6" y1="413.6" x2="344.6" y2="382.2" stroke="#000" stroke-width="2.1"/>
<line x1="334.1" y1="382.2" x2="355.1" y2="382.2" stroke="#000" stroke-width="2.1"/>
<rect x="324.1" y="413.6" width="41" height="227.39999999999998" fill="#fff" stroke="#000" stroke-width="2.1"/>
<line x1="344.6" y1="641" x2="344.6" y2="648" stroke="#000" stroke-width="2.1"/>
<line x1="408.4" y1="518.6" x2="408.4" y2="487.8" stroke="#000" stroke-width="2.1"/>
<line x1="397.9" y1="487.8" x2="418.9" y2="487.8" stroke="#000" stroke-width="2.1"/>
<rect x="387.9" y="518.6" width="41" height="122.39999999999998" fill="#fff" stroke="#000" stroke-width="2.1"/>
<line x1="408.4" y1="641" x2="408.4" y2="648" stroke="#000" stroke-width="2.1"/>
<line x1="472.4" y1="571.9" x2="472.4" y2="540.3" stroke="#000" stroke-width="2.1"/>
<line x1="461.9" y1="540.3" x2="482.9" y2="540.3" stroke="#000" stroke-width="2.1"/>
<rect x="451.9" y="571.9" width="41" height="69.10000000000002" fill="#fff" stroke="#000" stroke-width="2.1"/>
<line x1="472.4" y1="641" x2="472.4" y2="648" stroke="#000" stroke-width="2.1"/>
<text x="279.8" y="426.5" font-size="30" text-anchor="middle" font-weight="bold" fill="#000" >*</text>
<text x="344.5" y="379.5" font-size="30" text-anchor="middle" font-weight="bold" fill="#000" >*</text>
<text x="408.5" y="481.9" font-size="30" text-anchor="middle" font-weight="bold" fill="#000" >*</text>
<text x="212.3" y="678" font-size="31.5" text-anchor="middle" font-weight="normal" fill="#000" >Sham</text>
<text class="has1" x="280.3" y="678" font-size="31.5" text-anchor="middle" font-weight="normal" fill="#000" >1</text>
<text x="344.5" y="678" font-size="31.5" text-anchor="middle" font-weight="normal" fill="#000" >3</text>
<text x="407.8" y="678" font-size="31.5" text-anchor="middle" font-weight="normal" fill="#000" >7</text>
<text class="has1" x="454.4" y="678" font-size="31.5" text-anchor="start" font-weight="normal" fill="#000" >14</text>
<text x="491.2" y="673.3" font-size="31.5" text-anchor="start" font-weight="normal" fill="#000" >(dpi)</text>
<text transform="translate(41.9,459.2) rotate(-90)" font-size="30" text-anchor="middle">Number of</text>
<text transform="translate(85,456.8) rotate(-90)" font-size="31" text-anchor="middle">Tunel<tspan font-size="21" dy="-13">+</tspan><tspan dy="13">-OLIG2</tspan><tspan font-size="21" dy="-13">+</tspan><tspan dy="13">cells/mm</tspan><tspan font-size="21" dy="-13">2</tspan></text>
<text transform="translate(532.4,285) scale(0.96,1.1)" font-size="34" font-weight="bold">C</text>
<line x1="725" y1="644.1" x2="735.5" y2="644.1" stroke="#000" stroke-width="2.4"/>
<text x="722.5" y="656.4" font-size="35.5" text-anchor="end" font-weight="normal" fill="#000" >0</text>
<line x1="725" y1="555.4" x2="735.5" y2="555.4" stroke="#000" stroke-width="2.4"/>
<text x="722.5" y="567.6999999999999" font-size="35.5" text-anchor="end" font-weight="normal" fill="#000" >400</text>
<line x1="725" y1="466.70000000000005" x2="735.5" y2="466.70000000000005" stroke="#000" stroke-width="2.4"/>
<text x="722.5" y="479.00000000000006" font-size="35.5" text-anchor="end" font-weight="normal" fill="#000" >800</text>
<line x1="725" y1="378.0" x2="735.5" y2="378.0" stroke="#000" stroke-width="2.4"/>
<text class="has1" x="722.5" y="390.3" font-size="35.5" text-anchor="end" font-weight="normal" fill="#000" >1200</text>
<line x1="725" y1="289.3" x2="735.5" y2="289.3" stroke="#000" stroke-width="2.4"/>
<text class="has1" x="722.5" y="301.6" font-size="35.5" text-anchor="end" font-weight="normal" fill="#000" >1600</text>
<rect x="735.5" y="289.3" width="609.0" height="354.8" fill="none" stroke="#000" stroke-width="2.4"/>
<rect x="744.2" y="296.7" width="25.200000000000024" height="21.6" fill="#ffffff" stroke="#000" stroke-width="2.4"/>
<rect x="901.5" y="296.7" width="23.6" height="21.6" fill="#d0d0d0" stroke="#000" stroke-width="2.4"/>
<rect x="1004.4000000000001" y="296.7" width="24.399999999999956" height="21.6" fill="#fffde0" stroke="#000" stroke-width="2.4"/>
<rect x="1115.2" y="296.7" width="24.6" height="21.6" fill="#fde0e3" stroke="#000" stroke-width="2.4"/>
<rect x="1210.7" y="296.7" width="24.899999999999956" height="21.6" fill="#c8dcf6" stroke="#000" stroke-width="2.4"/>
<text x="785.5" y="319" font-size="32.5" text-anchor="start" font-weight="normal" fill="#000" >Sham</text>
<text class="has1" x="941.8" y="319" font-size="32.5" text-anchor="start" font-weight="normal" fill="#000" >1</text>
<text x="1045.5" y="319" font-size="32.5" text-anchor="start" font-weight="normal" fill="#000" >3</text>
<text x="1155.5" y="319" font-size="32.5" text-anchor="start" font-weight="normal" fill="#000" >7</text>
<text class="has1" x="1252.5" y="319" font-size="32.5" text-anchor="start" font-weight="normal" fill="#000" >14 dpi</text>
<line x1="760.0" y1="631.4" x2="760.0" y2="601.2" stroke="#000" stroke-width="2.4"/>
<line x1="754.2" y1="601.2" x2="765.8" y2="601.2" stroke="#000" stroke-width="2.4"/>
<rect x="748.5" y="631.4" width="23" height="12.700000000000045" fill="#ffffff" stroke="#000" stroke-width="2.4"/>
<line x1="796.6" y1="511.2" x2="796.6" y2="443.7" stroke="#000" stroke-width="2.4"/>
<line x1="790.8000000000001" y1="443.7" x2="802.4" y2="443.7" stroke="#000" stroke-width="2.4"/>
<rect x="785.1" y="511.2" width="23" height="132.90000000000003" fill="#d0d0d0" stroke="#000" stroke-width="2.4"/>
<line x1="833.2" y1="418.3" x2="833.2" y2="380.1" stroke="#000" stroke-width="2.4"/>
<line x1="827.4000000000001" y1="380.1" x2="839.0" y2="380.1" stroke="#000" stroke-width="2.4"/>
<rect x="821.7" y="418.3" width="23" height="225.8" fill="#fffde0" stroke="#000" stroke-width="2.4"/>
<line x1="869.8" y1="471.6" x2="869.8" y2="434" stroke="#000" stroke-width="2.4"/>
<line x1="864.0" y1="434" x2="875.5999999999999" y2="434" stroke="#000" stroke-width="2.4"/>
<rect x="858.3" y="471.6" width="23" height="172.5" fill="#fde0e3" stroke="#000" stroke-width="2.4"/>
<line x1="906.4" y1="565" x2="906.4" y2="534.3" stroke="#000" stroke-width="2.4"/>
<line x1="900.6" y1="534.3" x2="912.1999999999999" y2="534.3" stroke="#000" stroke-width="2.4"/>
<rect x="894.9" y="565" width="23" height="79.10000000000002" fill="#c8dcf6" stroke="#000" stroke-width="2.4"/>
<line x1="833.2" y1="644.1" x2="833.2" y2="655.1" stroke="#000" stroke-width="2.4"/>
<line x1="966.7" y1="618.6" x2="966.7" y2="581.3" stroke="#000" stroke-width="2.4"/>
<line x1="960.9000000000001" y1="581.3" x2="972.5" y2="581.3" stroke="#000" stroke-width="2.4"/>
<rect x="955.2" y="618.6" width="23" height="25.5" fill="#ffffff" stroke="#000" stroke-width="2.4"/>
<line x1="1003.3000000000001" y1="525.2" x2="1003.3000000000001" y2="468.2" stroke="#000" stroke-width="2.4"/>
<line x1="997.5000000000001" y1="468.2" x2="1009.1" y2="468.2" stroke="#000" stroke-width="2.4"/>
<rect x="991.8000000000001" y="525.2" width="23" height="118.89999999999998" fill="#d0d0d0" stroke="#000" stroke-width="2.4"/>
<line x1="1039.9" y1="431.1" x2="1039.9" y2="400" stroke="#000" stroke-width="2.4"/>
<line x1="1034.1000000000001" y1="400" x2="1045.7" y2="400" stroke="#000" stroke-width="2.4"/>
<rect x="1028.4" y="431.1" width="23" height="213.0" fill="#fffde0" stroke="#000" stroke-width="2.4"/>
<line x1="1076.5" y1="498" x2="1076.5" y2="467.6" stroke="#000" stroke-width="2.4"/>
<line x1="1070.7" y1="467.6" x2="1082.3" y2="467.6" stroke="#000" stroke-width="2.4"/>
<rect x="1065.0" y="498" width="23" height="146.10000000000002" fill="#fde0e3" stroke="#000" stroke-width="2.4"/>
<line x1="1113.1000000000001" y1="578.7" x2="1113.1000000000001" y2="530.3" stroke="#000" stroke-width="2.4"/>
<line x1="1107.3000000000002" y1="530.3" x2="1118.9" y2="530.3" stroke="#000" stroke-width="2.4"/>
<rect x="1101.6000000000001" y="578.7" width="23" height="65.39999999999998" fill="#c8dcf6" stroke="#000" stroke-width="2.4"/>
<line x1="1039.9" y1="644.1" x2="1039.9" y2="655.1" stroke="#000" stroke-width="2.4"/>
<line x1="1173.4" y1="471.4" x2="1173.4" y2="433.9" stroke="#000" stroke-width="2.4"/>
<line x1="1167.6000000000001" y1="433.9" x2="1179.2" y2="433.9" stroke="#000" stroke-width="2.4"/>
<rect x="1161.9" y="471.4" width="23" height="172.70000000000005" fill="#ffffff" stroke="#000" stroke-width="2.4"/>
<line x1="1210.0" y1="605.2" x2="1210.0" y2="567.6" stroke="#000" stroke-width="2.4"/>
<line x1="1204.2" y1="567.6" x2="1215.8" y2="567.6" stroke="#000" stroke-width="2.4"/>
<rect x="1198.5" y="605.2" width="23" height="38.89999999999998" fill="#d0d0d0" stroke="#000" stroke-width="2.4"/>
<line x1="1246.6000000000001" y1="618.8" x2="1246.6000000000001" y2="581" stroke="#000" stroke-width="2.4"/>
<line x1="1240.8000000000002" y1="581" x2="1252.4" y2="581" stroke="#000" stroke-width="2.4"/>
<rect x="1235.1000000000001" y="618.8" width="23" height="25.300000000000068" fill="#fffde0" stroke="#000" stroke-width="2.4"/>
<line x1="1283.2" y1="511.3" x2="1283.2" y2="463.2" stroke="#000" stroke-width="2.4"/>
<line x1="1277.4" y1="463.2" x2="1289.0" y2="463.2" stroke="#000" stroke-width="2.4"/>
<rect x="1271.7" y="511.3" width="23" height="132.8" fill="#fde0e3" stroke="#000" stroke-width="2.4"/>
<line x1="1319.8000000000002" y1="484.5" x2="1319.8000000000002" y2="446.7" stroke="#000" stroke-width="2.4"/>
<line x1="1314.0000000000002" y1="446.7" x2="1325.6000000000001" y2="446.7" stroke="#000" stroke-width="2.4"/>
<rect x="1308.3000000000002" y="484.5" width="23" height="159.60000000000002" fill="#c8dcf6" stroke="#000" stroke-width="2.4"/>
<line x1="1246.6000000000001" y1="644.1" x2="1246.6000000000001" y2="655.1" stroke="#000" stroke-width="2.4"/>
<text x="831.8" y="683" font-size="28.5" text-anchor="middle" font-weight="normal" fill="#000" >4-HNE</text>
<text x="1039.3" y="683" font-size="28.5" text-anchor="middle" font-weight="normal" fill="#000" >COX2</text>
<text x="1246" y="683" font-size="28.5" text-anchor="middle" font-weight="normal" fill="#000" >GPX4</text>
<path d="M759.2,592 V359.3 H829 V370" fill="none" stroke="#000" stroke-width="2.4"/>
<line x1="780.6" y1="375.6" x2="874.6" y2="375.6" stroke="#000" stroke-width="2.4"/>
<text x="787" y="356.8" font-size="30" text-anchor="middle" font-weight="bold" fill="#000" >*</text>
<path d="M965.8,570 V375 H1057.5 V388.4" fill="none" stroke="#000" stroke-width="2.4"/>
<line x1="1033.3" y1="394.4" x2="1082" y2="394.4" stroke="#000" stroke-width="2.4"/>
<text x="1012.6" y="372.3" font-size="30" text-anchor="middle" font-weight="bold" fill="#000" >*</text>
<path d="M1173.3,426.8 V410.5 H1228 V549.7" fill="none" stroke="#000" stroke-width="2.4"/>
<line x1="1204.9" y1="555.4" x2="1250.1" y2="555.4" stroke="#000" stroke-width="2.4"/>
<text x="1196.2" y="406.6" font-size="30" text-anchor="middle" font-weight="bold" fill="#000" >*</text>
<text transform="translate(590.8,630) rotate(-90)" font-size="29">Number of OLIG2<tspan font-size="20" dy="-12.5">+</tspan><tspan dy="12.5">-4-HNE</tspan><tspan font-size="20" dy="-12.5">+</tspan></text>
<text transform="translate(630.7,614) rotate(-90)" font-size="28.4">/COX2<tspan font-size="20" dy="-12.5">+</tspan><tspan dy="12.5"> /GPX4</tspan><tspan font-size="20" dy="-12.5">+</tspan><tspan dy="12.5">cells/mm</tspan><tspan font-size="20" dy="-12.5">2</tspan></text>
<text transform="translate(1.5,679.1) scale(0.99,1.03)" font-size="34" font-weight="bold">D</text>
<line x1="193" y1="1111.75" x2="203.6" y2="1111.75" stroke="#000" stroke-width="2.6"/>
<text x="188.5" y="1125.05" font-size="38.5" text-anchor="end" font-weight="normal" fill="#000" >0</text>
<line x1="193" y1="1014.2375" x2="203.6" y2="1014.2375" stroke="#000" stroke-width="2.6"/>
<text class="has1" x="188.5" y="1027.5375" font-size="38.5" text-anchor="end" font-weight="normal" fill="#000" >150</text>
<line x1="193" y1="916.725" x2="203.6" y2="916.725" stroke="#000" stroke-width="2.6"/>
<text x="188.5" y="930.025" font-size="38.5" text-anchor="end" font-weight="normal" fill="#000" >300</text>
<line x1="193" y1="819.2125000000001" x2="203.6" y2="819.2125000000001" stroke="#000" stroke-width="2.6"/>
<text x="188.5" y="832.5125" font-size="38.5" text-anchor="end" font-weight="normal" fill="#000" >450</text>
<line x1="193" y1="721.7" x2="203.6" y2="721.7" stroke="#000" stroke-width="2.6"/>
<text x="188.5" y="735.0" font-size="38.5" text-anchor="end" font-weight="normal" fill="#000" >600</text>
<rect x="203.6" y="721.7" width="920.4" height="390.04999999999995" fill="none" stroke="#000" stroke-width="2.6"/>
<rect x="234.5" y="740.3" width="29.70000000000001" height="29" fill="#ffffff" stroke="#000" stroke-width="2.6"/>
<rect x="451.7" y="740.3" width="30.100000000000044" height="29" fill="#d0d0d0" stroke="#000" stroke-width="2.6"/>
<rect x="623.0999999999999" y="740.3" width="30.100000000000044" height="29" fill="#ece6c9" stroke="#000" stroke-width="2.6"/>
<rect x="810.5999999999999" y="740.3" width="29.80000000000009" height="29" fill="#fcdde1" stroke="#000" stroke-width="2.6"/>
<rect x="969.0" y="740.3" width="29.699999999999953" height="29" fill="#c8dcf6" stroke="#000" stroke-width="2.6"/>
<text x="281" y="768" font-size="38.5" text-anchor="start" font-weight="normal" fill="#000" >Sham</text>
<text class="has1" x="498.5" y="768" font-size="38.5" text-anchor="start" font-weight="normal" fill="#000" >1</text>
<text x="669" y="768" font-size="38.5" text-anchor="start" font-weight="normal" fill="#000" >3</text>
<text x="856" y="768" font-size="38.5" text-anchor="start" font-weight="normal" fill="#000" >7</text>
<text class="has1" x="1015.5" y="768" font-size="38.5" text-anchor="start" font-weight="normal" fill="#000" >14 dpi</text>
<line x1="222.2" y1="1107.3" x2="222.2" y2="1094.9" stroke="#000" stroke-width="2.6"/>
<line x1="217.39999999999998" y1="1094.9" x2="227.0" y2="1094.9" stroke="#000" stroke-width="2.6"/>
<rect x="213.29999999999998" y="1107.3" width="17.8" height="4.4500000000000455" fill="#ffffff" stroke="#000" stroke-width="2.6"/>
<line x1="249.5" y1="1092.9" x2="249.5" y2="1076.7" stroke="#000" stroke-width="2.6"/>
<line x1="244.7" y1="1076.7" x2="254.3" y2="1076.7" stroke="#000" stroke-width="2.6"/>
<rect x="240.6" y="1092.9" width="17.8" height="18.84999999999991" fill="#d0d0d0" stroke="#000" stroke-width="2.6"/>
<line x1="276.8" y1="1082.9" x2="276.8" y2="1055.1" stroke="#000" stroke-width="2.6"/>
<line x1="272.0" y1="1055.1" x2="281.6" y2="1055.1" stroke="#000" stroke-width="2.6"/>
<rect x="267.90000000000003" y="1082.9" width="17.8" height="28.84999999999991" fill="#ece6c9" stroke="#000" stroke-width="2.6"/>
<line x1="304.1" y1="1077.8" x2="304.1" y2="1054.4" stroke="#000" stroke-width="2.6"/>
<line x1="299.3" y1="1054.4" x2="308.90000000000003" y2="1054.4" stroke="#000" stroke-width="2.6"/>
<rect x="295.20000000000005" y="1077.8" width="17.8" height="33.950000000000045" fill="#fcdde1" stroke="#000" stroke-width="2.6"/>
<line x1="331.4" y1="1102.9" x2="331.4" y2="1086.7" stroke="#000" stroke-width="2.6"/>
<line x1="326.59999999999997" y1="1086.7" x2="336.2" y2="1086.7" stroke="#000" stroke-width="2.6"/>
<rect x="322.5" y="1102.9" width="17.8" height="8.849999999999909" fill="#c8dcf6" stroke="#000" stroke-width="2.6"/>
<line x1="376.79999999999995" y1="1102.7" x2="376.79999999999995" y2="1086.7" stroke="#000" stroke-width="2.6"/>
<line x1="371.99999999999994" y1="1086.7" x2="381.59999999999997" y2="1086.7" stroke="#000" stroke-width="2.6"/>
<rect x="367.9" y="1102.7" width="17.8" height="9.049999999999955" fill="#ffffff" stroke="#000" stroke-width="2.6"/>
<line x1="404.09999999999997" y1="1082.9" x2="404.09999999999997" y2="1063.3" stroke="#000" stroke-width="2.6"/>
<line x1="399.29999999999995" y1="1063.3" x2="408.9" y2="1063.3" stroke="#000" stroke-width="2.6"/>
<rect x="395.2" y="1082.9" width="17.8" height="28.84999999999991" fill="#d0d0d0" stroke="#000" stroke-width="2.6"/>
<line x1="431.4" y1="1037.8" x2="431.4" y2="1020.7" stroke="#000" stroke-width="2.6"/>
<line x1="426.59999999999997" y1="1020.7" x2="436.2" y2="1020.7" stroke="#000" stroke-width="2.6"/>
<rect x="422.5" y="1037.8" width="17.8" height="73.95000000000005" fill="#ece6c9" stroke="#000" stroke-width="2.6"/>
<line x1="458.69999999999993" y1="1032.7" x2="458.69999999999993" y2="1007.8" stroke="#000" stroke-width="2.6"/>
<line x1="453.8999999999999" y1="1007.8" x2="463.49999999999994" y2="1007.8" stroke="#000" stroke-width="2.6"/>
<rect x="449.79999999999995" y="1032.7" width="17.8" height="79.04999999999995" fill="#fcdde1" stroke="#000" stroke-width="2.6"/>
<line x1="485.99999999999994" y1="1077.1" x2="485.99999999999994" y2="1054.4" stroke="#000" stroke-width="2.6"/>
<line x1="481.19999999999993" y1="1054.4" x2="490.79999999999995" y2="1054.4" stroke="#000" stroke-width="2.6"/>
<rect x="477.09999999999997" y="1077.1" width="17.8" height="34.65000000000009" fill="#c8dcf6" stroke="#000" stroke-width="2.6"/>
<line x1="531.4" y1="1097.1" x2="531.4" y2="1081.1" stroke="#000" stroke-width="2.6"/>
<line x1="526.6" y1="1081.1" x2="536.1999999999999" y2="1081.1" stroke="#000" stroke-width="2.6"/>
<rect x="522.5" y="1097.1" width="17.8" height="14.650000000000091" fill="#ffffff" stroke="#000" stroke-width="2.6"/>
<line x1="558.6999999999999" y1="1087.8" x2="558.6999999999999" y2="1074.9" stroke="#000" stroke-width="2.6"/>
<line x1="553.9" y1="1074.9" x2="563.4999999999999" y2="1074.9" stroke="#000" stroke-width="2.6"/>
<rect x="549.8" y="1087.8" width="17.8" height="23.950000000000045" fill="#d0d0d0" stroke="#000" stroke-width="2.6"/>
<line x1="586.0" y1="1058.2" x2="586.0" y2="1034.4" stroke="#000" stroke-width="2.6"/>
<line x1="581.2" y1="1034.4" x2="590.8" y2="1034.4" stroke="#000" stroke-width="2.6"/>
<rect x="577.1" y="1058.2" width="17.8" height="53.549999999999955" fill="#ece6c9" stroke="#000" stroke-width="2.6"/>
<line x1="613.3" y1="1027.8" x2="613.3" y2="1004.4" stroke="#000" stroke-width="2.6"/>
<line x1="608.5" y1="1004.4" x2="618.0999999999999" y2="1004.4" stroke="#000" stroke-width="2.6"/>
<rect x="604.4" y="1027.8" width="17.8" height="83.95000000000005" fill="#fcdde1" stroke="#000" stroke-width="2.6"/>
<line x1="640.6" y1="1077.8" x2="640.6" y2="1054.4" stroke="#000" stroke-width="2.6"/>
<line x1="635.8000000000001" y1="1054.4" x2="645.4" y2="1054.4" stroke="#000" stroke-width="2.6"/>
<rect x="631.7" y="1077.8" width="17.8" height="33.950000000000045" fill="#c8dcf6" stroke="#000" stroke-width="2.6"/>
<line x1="686.0" y1="1107.1" x2="686.0" y2="1094.9" stroke="#000" stroke-width="2.6"/>
<line x1="681.2" y1="1094.9" x2="690.8" y2="1094.9" stroke="#000" stroke-width="2.6"/>
<rect x="677.1" y="1107.1" width="17.8" height="4.650000000000091" fill="#ffffff" stroke="#000" stroke-width="2.6"/>
<line x1="713.3" y1="1082.9" x2="713.3" y2="1063.3" stroke="#000" stroke-width="2.6"/>
<line x1="708.5" y1="1063.3" x2="718.0999999999999" y2="1063.3" stroke="#000" stroke-width="2.6"/>
<rect x="704.4" y="1082.9" width="17.8" height="28.84999999999991" fill="#d0d0d0" stroke="#000" stroke-width="2.6"/>
<line x1="740.6" y1="1032.9" x2="740.6" y2="1007.8" stroke="#000" stroke-width="2.6"/>
<line x1="735.8000000000001" y1="1007.8" x2="745.4" y2="1007.8" stroke="#000" stroke-width="2.6"/>
<rect x="731.7" y="1032.9" width="17.8" height="78.84999999999991" fill="#ece6c9" stroke="#000" stroke-width="2.6"/>
<line x1="767.9" y1="1022.9" x2="767.9" y2="1002.9" stroke="#000" stroke-width="2.6"/>
<line x1="763.1" y1="1002.9" x2="772.6999999999999" y2="1002.9" stroke="#000" stroke-width="2.6"/>
<rect x="759.0" y="1022.9" width="17.8" height="88.85000000000002" fill="#fcdde1" stroke="#000" stroke-width="2.6"/>
<line x1="795.2" y1="1087.6" x2="795.2" y2="1064.3" stroke="#000" stroke-width="2.6"/>
<line x1="790.4000000000001" y1="1064.3" x2="800.0" y2="1064.3" stroke="#000" stroke-width="2.6"/>
<rect x="786.3000000000001" y="1087.6" width="17.8" height="24.15000000000009" fill="#c8dcf6" stroke="#000" stroke-width="2.6"/>
<line x1="840.5999999999999" y1="1102.4" x2="840.5999999999999" y2="1086.9" stroke="#000" stroke-width="2.6"/>
<line x1="835.8" y1="1086.9" x2="845.3999999999999" y2="1086.9" stroke="#000" stroke-width="2.6"/>
<rect x="831.6999999999999" y="1102.4" width="17.8" height="9.349999999999909" fill="#ffffff" stroke="#000" stroke-width="2.6"/>
<line x1="867.8999999999999" y1="1092.8" x2="867.8999999999999" y2="1076.5" stroke="#000" stroke-width="2.6"/>
<line x1="863.0999999999999" y1="1076.5" x2="872.6999999999998" y2="1076.5" stroke="#000" stroke-width="2.6"/>
<rect x="858.9999999999999" y="1092.8" width="17.8" height="18.950000000000045" fill="#d0d0d0" stroke="#000" stroke-width="2.6"/>
<line x1="895.1999999999999" y1="1052.6" x2="895.1999999999999" y2="1033.2" stroke="#000" stroke-width="2.6"/>
<line x1="890.4" y1="1033.2" x2="899.9999999999999" y2="1033.2" stroke="#000" stroke-width="2.6"/>
<rect x="886.3" y="1052.6" width="17.8" height="59.15000000000009" fill="#ece6c9" stroke="#000" stroke-width="2.6"/>
<line x1="922.4999999999999" y1="1022.8" x2="922.4999999999999" y2="995.6" stroke="#000" stroke-width="2.6"/>
<line x1="917.6999999999999" y1="995.6" x2="927.2999999999998" y2="995.6" stroke="#000" stroke-width="2.6"/>
<rect x="913.5999999999999" y="1022.8" width="17.8" height="88.95000000000005" fill="#fcdde1" stroke="#000" stroke-width="2.6"/>
<line x1="949.8" y1="1082.4" x2="949.8" y2="1055.2" stroke="#000" stroke-width="2.6"/>
<line x1="945.0" y1="1055.2" x2="954.5999999999999" y2="1055.2" stroke="#000" stroke-width="2.6"/>
<rect x="940.9" y="1082.4" width="17.8" height="29.34999999999991" fill="#c8dcf6" stroke="#000" stroke-width="2.6"/>
<line x1="995.2" y1="1101.9" x2="995.2" y2="1075.2" stroke="#000" stroke-width="2.6"/>
<line x1="990.4000000000001" y1="1075.2" x2="1000.0" y2="1075.2" stroke="#000" stroke-width="2.6"/>
<rect x="986.3000000000001" y="1101.9" width="17.8" height="9.849999999999909" fill="#ffffff" stroke="#000" stroke-width="2.6"/>
<line x1="1022.5" y1="1049.3" x2="1022.5" y2="1007.8" stroke="#000" stroke-width="2.6"/>
<line x1="1017.7" y1="1007.8" x2="1027.3" y2="1007.8" stroke="#000" stroke-width="2.6"/>
<rect x="1013.6" y="1049.3" width="17.8" height="62.450000000000045" fill="#d0d0d0" stroke="#000" stroke-width="2.6"/>
<line x1="1049.8" y1="996.6" x2="1049.8" y2="947.6" stroke="#000" stroke-width="2.6"/>
<line x1="1045.0" y1="947.6" x2="1054.6" y2="947.6" stroke="#000" stroke-width="2.6"/>
<rect x="1040.8999999999999" y="996.6" width="17.8" height="115.14999999999998" fill="#ece6c9" stroke="#000" stroke-width="2.6"/>
<line x1="1077.1000000000001" y1="890.5" x2="1077.1000000000001" y2="836.6" stroke="#000" stroke-width="2.6"/>
<line x1="1072.3000000000002" y1="836.6" x2="1081.9" y2="836.6" stroke="#000" stroke-width="2.6"/>
<rect x="1068.2" y="890.5" width="17.8" height="221.25" fill="#fcdde1" stroke="#000" stroke-width="2.6"/>
<line x1="1104.4" y1="1028" x2="1104.4" y2="994.3" stroke="#000" stroke-width="2.6"/>
<line x1="1099.6000000000001" y1="994.3" x2="1109.2" y2="994.3" stroke="#000" stroke-width="2.6"/>
<rect x="1095.5" y="1028" width="17.8" height="83.75" fill="#c8dcf6" stroke="#000" stroke-width="2.6"/>
<text class="has1" x="237.1" y="1154" font-size="31.8" text-anchor="start" font-weight="normal" fill="#000" >TFR1</text>
<text class="has1" x="387.55" y="1154" font-size="31.8" text-anchor="start" font-weight="normal" fill="#000" >DMT1</text>
<text x="554.8" y="1154" font-size="31.8" text-anchor="start" font-weight="normal" fill="#000" >FTH</text>
<text x="711.9" y="1154" font-size="31.8" text-anchor="start" font-weight="normal" fill="#000" >FTL</text>
<text class="has1" x="854.5" y="1154" font-size="31.8" text-anchor="start" font-weight="normal" fill="#000" >FPN1</text>
<text x="1008.8" y="1154" font-size="31.8" text-anchor="start" font-weight="normal" fill="#000" >TIM-2</text>
<path d="M376.7,1081.1 V981.1 H442.7 V996.7" fill="none" stroke="#000" stroke-width="2.6"/>
<line x1="427.1" y1="999.6" x2="458.9" y2="999.6" stroke="#000" stroke-width="2.6"/>
<text x="409.2" y="981.2" font-size="32.5" text-anchor="middle" font-weight="bold" fill="#000" >*</text>
<path d="M530.4,1073.3 V980 H598.4 V995.6" fill="none" stroke="#000" stroke-width="2.6"/>
<line x1="583.3" y1="998.2" x2="615.1" y2="998.2" stroke="#000" stroke-width="2.6"/>
<text x="564.8" y="984.1" font-size="32.5" text-anchor="middle" font-weight="bold" fill="#000" >*</text>
<path d="M684.9,1093 V978.2 H750.7 V994.4" fill="none" stroke="#000" stroke-width="2.6"/>
<line x1="734.9" y1="996.7" x2="766.7" y2="996.7" stroke="#000" stroke-width="2.6"/>
<text x="718" y="982.2" font-size="32.5" text-anchor="middle" font-weight="bold" fill="#000" >*</text>
<path d="M840.1,1080.4 V969.7 H905.7 V985.2" fill="none" stroke="#000" stroke-width="2.6"/>
<line x1="889.7" y1="987.8" x2="922.1" y2="987.8" stroke="#000" stroke-width="2.6"/>
<text x="868.8" y="971.9000000000001" font-size="32.5" text-anchor="middle" font-weight="bold" fill="#000" >*</text>
<path d="M994.5,1067.4 V813.6 H1074 V828.4" fill="none" stroke="#000" stroke-width="2.6"/>
<line x1="1046.5" y1="829.9" x2="1104.4" y2="829.9" stroke="#000" stroke-width="2.6"/>
<text x="1033" y="819.2" font-size="32.5" text-anchor="middle" font-weight="bold" fill="#000" >*</text>
<text class="has1" transform="translate(65.7,1145) rotate(-90)" font-size="32.8">Number of OLIG2<tspan font-size="22" dy="-15">+</tspan><tspan dy="15"> -TFR</tspan><tspan font-size="22" dy="-15">+</tspan><tspan dy="15">/DMT1</tspan><tspan font-size="22" dy="-15">+</tspan></text>
<text transform="translate(110.4,1156) rotate(-90)" font-size="33">/FTH<tspan font-size="22" dy="-15">+</tspan><tspan dy="15">/FTL</tspan><tspan font-size="22" dy="-15">+</tspan><tspan dy="15">/FPN</tspan><tspan font-size="22" dy="-15">+</tspan><tspan dy="15">/Tim-2</tspan><tspan font-size="22" dy="-15">+</tspan><tspan dy="15">cells/mm</tspan><tspan font-size="22" dy="-15">2</tspan></text>
<g><rect x="365.46" y="2.31" width="20.22" height="30.99" fill="#fff"/><path d="M763 0H583V1147Q518 1085 412.5 1023T223 930V1104Q373 1175 485.5 1276T645 1472H763Z" transform="translate(363.41,31.80) scale(0.02036,-0.02036)" fill="#000"/></g>
<g><rect x="973.37" y="2.31" width="20.22" height="30.99" fill="#fff"/><path d="M763 0H583V1147Q518 1085 412.5 1023T223 930V1104Q373 1175 485.5 1276T645 1472H763Z" transform="translate(971.32,31.80) scale(0.02036,-0.02036)" fill="#000"/></g>
<g><rect x="113.45" y="458.68" width="15.98" height="24.32" fill="#fff"/><path d="M763 0H583V1147Q518 1085 412.5 1023T223 930V1104Q373 1175 485.5 1276T645 1472H763Z" transform="translate(112.11,481.50) scale(0.01562,-0.01562)" fill="#000"/></g>
<g><rect x="272.84" y="655.53" width="15.77" height="23.97" fill="#fff"/><path d="M763 0H583V1147Q518 1085 412.5 1023T223 930V1104Q373 1175 485.5 1276T645 1472H763Z" transform="translate(271.53,678.00) scale(0.01538,-0.01538)" fill="#000"/></g>
<g><rect x="455.71" y="655.53" width="15.77" height="23.97" fill="#fff"/><path d="M763 0H583V1147Q518 1085 412.5 1023T223 930V1104Q373 1175 485.5 1276T645 1472H763Z" transform="translate(454.40,678.00) scale(0.01538,-0.01538)" fill="#000"/></g>
<g><rect x="645.12" y="365.08" width="17.51" height="26.72" fill="#fff"/><path d="M763 0H583V1147Q518 1085 412.5 1023T223 930V1104Q373 1175 485.5 1276T645 1472H763Z" transform="translate(643.52,390.30) scale(0.01733,-0.01733)" fill="#000"/></g>
<g><rect x="645.12" y="276.38" width="17.51" height="26.72" fill="#fff"/><path d="M763 0H583V1147Q518 1085 412.5 1023T223 930V1104Q373 1175 485.5 1276T645 1472H763Z" transform="translate(643.52,301.60) scale(0.01733,-0.01733)" fill="#000"/></g>
<g><rect x="943.18" y="295.84" width="16.20" height="24.66" fill="#fff"/><path d="M763 0H583V1147Q518 1085 412.5 1023T223 930V1104Q373 1175 485.5 1276T645 1472H763Z" transform="translate(941.80,319.00) scale(0.01587,-0.01587)" fill="#000"/></g>
<g><rect x="1253.88" y="295.84" width="16.20" height="24.66" fill="#fff"/><path d="M763 0H583V1147Q518 1085 412.5 1023T223 930V1104Q373 1175 485.5 1276T645 1472H763Z" transform="translate(1252.50,319.00) scale(0.01587,-0.01587)" fill="#000"/></g>
<g><rect x="126.07" y="1000.25" width="18.82" height="28.79" fill="#fff"/><path d="M763 0H583V1147Q518 1085 412.5 1023T223 930V1104Q373 1175 485.5 1276T645 1472H763Z" transform="translate(124.25,1027.54) scale(0.01880,-0.01880)" fill="#000"/></g>
<g><rect x="500.32" y="740.71" width="18.82" height="28.79" fill="#fff"/><path d="M763 0H583V1147Q518 1085 412.5 1023T223 930V1104Q373 1175 485.5 1276T645 1472H763Z" transform="translate(498.50,768.00) scale(0.01880,-0.01880)" fill="#000"/></g>
<g><rect x="1017.32" y="740.71" width="18.82" height="28.79" fill="#fff"/><path d="M763 0H583V1147Q518 1085 412.5 1023T223 930V1104Q373 1175 485.5 1276T645 1472H763Z" transform="translate(1015.50,768.00) scale(0.01880,-0.01880)" fill="#000"/></g>
<g><rect x="300.23" y="1131.32" width="15.90" height="24.18" fill="#fff"/><path d="M763 0H583V1147Q518 1085 412.5 1023T223 930V1104Q373 1175 485.5 1276T645 1472H763Z" transform="translate(298.90,1154.00) scale(0.01553,-0.01553)" fill="#000"/></g>
<g><rect x="457.74" y="1131.32" width="15.90" height="24.18" fill="#fff"/><path d="M763 0H583V1147Q518 1085 412.5 1023T223 930V1104Q373 1175 485.5 1276T645 1472H763Z" transform="translate(456.41,1154.00) scale(0.01553,-0.01553)" fill="#000"/></g>
<g><rect x="919.42" y="1131.32" width="15.90" height="24.18" fill="#fff"/><path d="M763 0H583V1147Q518 1085 412.5 1023T223 930V1104Q373 1175 485.5 1276T645 1472H763Z" transform="translate(918.09,1154.00) scale(0.01553,-0.01553)" fill="#000"/></g>
<g transform="translate(65.7,1145) rotate(-90)"><rect x="449.90" y="-23.37" width="16.33" height="24.87" fill="#fff"/><path d="M763 0H583V1147Q518 1085 412.5 1023T223 930V1104Q373 1175 485.5 1276T645 1472H763Z" transform="translate(448.50,0.00) scale(0.01602,-0.01602)" fill="#000"/></g>
</g></svg></body></html>
